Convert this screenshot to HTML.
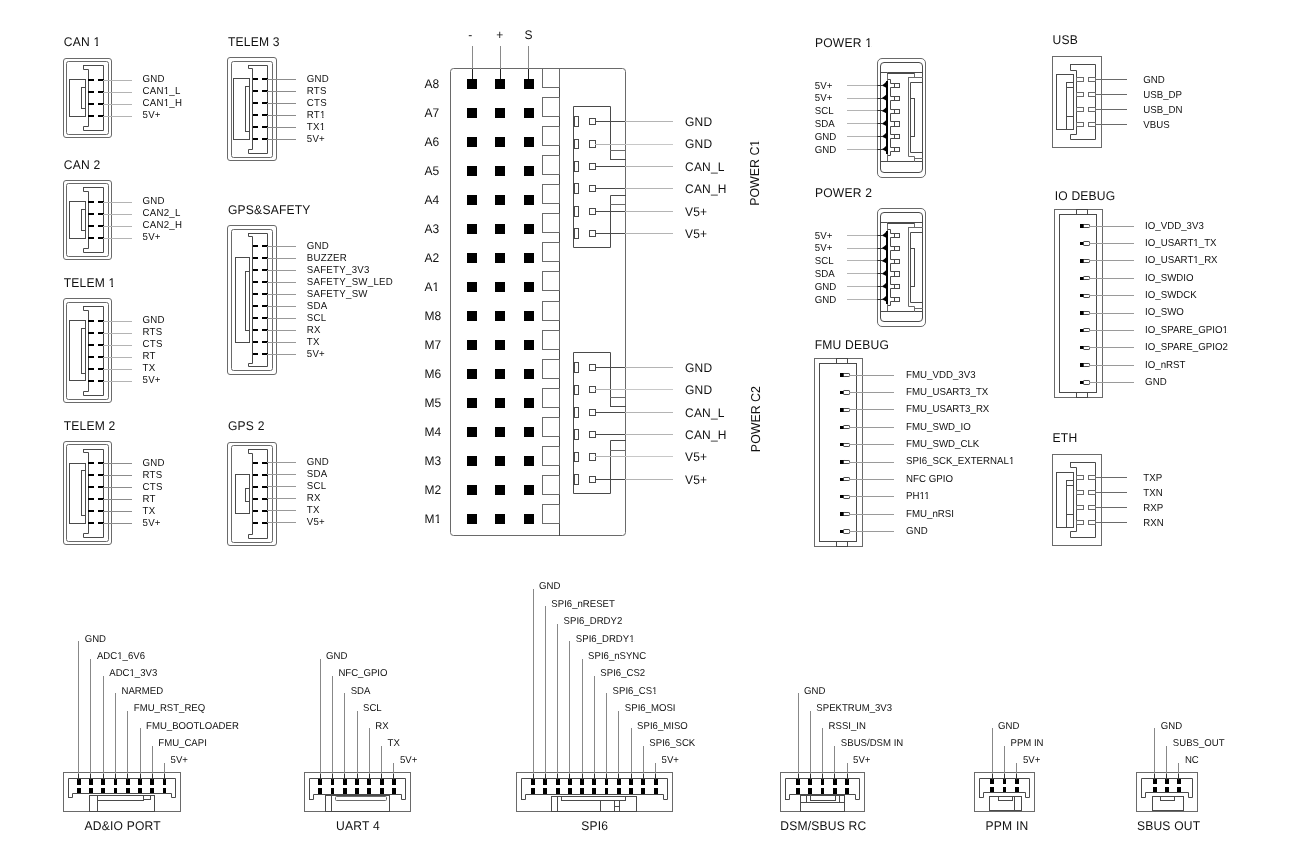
<!DOCTYPE html>
<html><head><meta charset="utf-8"><title>Pinout</title>
<style>
html,body{margin:0;padding:0;background:#fff;}
body{width:1290px;height:860px;overflow:hidden;}
svg{display:block;will-change:transform;font-family:"Liberation Sans", sans-serif;text-rendering:geometricPrecision;}
</style></head>
<body>
<svg width="1290" height="860" viewBox="0 0 1290 860">
<rect width="1290" height="860" fill="#fff"/>
<rect x="63.5" y="58.5" width="48" height="79" fill="none" stroke="#6a6a6a" stroke-width="1" rx="2.5"/>
<rect x="66.5" y="61.5" width="42" height="73" fill="none" stroke="#6a6a6a" stroke-width="1" rx="2"/>
<path d="M83.5,65.5 H103.5 V130.5 H83.5 V126.5 H88.5 V69.5 H83.5 L83.5,65.5" fill="none" stroke="#4a4a4a" stroke-width="1" stroke-linecap="square"/>
<rect x="69.5" y="79.5" width="16" height="37" fill="none" stroke="#4a4a4a" stroke-width="1"/>
<rect x="81.5" y="87.5" width="4" height="21" fill="none" stroke="#4a4a4a" stroke-width="1"/>
<rect x="88" y="79" width="6" height="2" fill="#000"/>
<rect x="98" y="79" width="6" height="2" fill="#000"/>
<line x1="103.5" y1="80.5" x2="131.5" y2="80.5" stroke="#b4b4b4" stroke-width="1" stroke-linecap="square"/>
<text transform="translate(142.5 82.4) scale(0.9609 1)" font-size="10.09" fill="#111" letter-spacing="0.271">GND</text>
<rect x="88" y="91" width="6" height="2" fill="#000"/>
<rect x="98" y="91" width="6" height="2" fill="#000"/>
<line x1="103.5" y1="92.5" x2="131.5" y2="92.5" stroke="#b4b4b4" stroke-width="1" stroke-linecap="square"/>
<text transform="translate(142.5 94.4) scale(0.9609 1)" font-size="10.09" fill="#111" letter-spacing="0.271">CAN1_L</text>
<g transform="translate(142.5 94.4) scale(0.9609 1)" fill="#fff"><rect x="22.37" y="-1.40" width="2.02" height="2.00"/><rect x="25.75" y="-1.40" width="1.85" height="2.00"/></g>
<rect x="88" y="103" width="6" height="2" fill="#000"/>
<rect x="98" y="103" width="6" height="2" fill="#000"/>
<line x1="103.5" y1="104.5" x2="131.5" y2="104.5" stroke="#b4b4b4" stroke-width="1" stroke-linecap="square"/>
<text transform="translate(142.5 106.4) scale(0.9609 1)" font-size="10.09" fill="#111" letter-spacing="0.271">CAN1_H</text>
<g transform="translate(142.5 106.4) scale(0.9609 1)" fill="#fff"><rect x="22.37" y="-1.40" width="2.02" height="2.00"/><rect x="25.75" y="-1.40" width="1.85" height="2.00"/></g>
<rect x="88" y="115" width="6" height="2" fill="#000"/>
<rect x="98" y="115" width="6" height="2" fill="#000"/>
<line x1="103.5" y1="116.5" x2="131.5" y2="116.5" stroke="#b4b4b4" stroke-width="1" stroke-linecap="square"/>
<text transform="translate(142.5 118.4) scale(0.9609 1)" font-size="10.09" fill="#111" letter-spacing="0.271">5V+</text>
<text transform="translate(63.75 46.1) scale(0.9609 1)" font-size="12.59" fill="#111" letter-spacing="0.208">CAN 1</text>
<g transform="translate(63.75 46.1) scale(0.9609 1)" fill="#fff"><rect x="31.24" y="-1.10" width="2.52" height="2.00"/><rect x="35.46" y="-1.10" width="2.31" height="2.00"/></g>
<rect x="63.5" y="180.5" width="48" height="79" fill="none" stroke="#6a6a6a" stroke-width="1" rx="2.5"/>
<rect x="66.5" y="183.5" width="42" height="73" fill="none" stroke="#6a6a6a" stroke-width="1" rx="2"/>
<path d="M83.5,187.5 H103.5 V252.5 H83.5 V248.5 H88.5 V191.5 H83.5 L83.5,187.5" fill="none" stroke="#4a4a4a" stroke-width="1" stroke-linecap="square"/>
<rect x="69.5" y="201.5" width="16" height="37" fill="none" stroke="#4a4a4a" stroke-width="1"/>
<rect x="81.5" y="209.5" width="4" height="21" fill="none" stroke="#4a4a4a" stroke-width="1"/>
<rect x="88" y="201" width="6" height="2" fill="#000"/>
<rect x="98" y="201" width="6" height="2" fill="#000"/>
<line x1="103.5" y1="202.5" x2="131.5" y2="202.5" stroke="#b4b4b4" stroke-width="1" stroke-linecap="square"/>
<text transform="translate(142.5 204.4) scale(0.9609 1)" font-size="10.09" fill="#111" letter-spacing="0.271">GND</text>
<rect x="88" y="213" width="6" height="2" fill="#000"/>
<rect x="98" y="213" width="6" height="2" fill="#000"/>
<line x1="103.5" y1="214.5" x2="131.5" y2="214.5" stroke="#b4b4b4" stroke-width="1" stroke-linecap="square"/>
<text transform="translate(142.5 216.4) scale(0.9609 1)" font-size="10.09" fill="#111" letter-spacing="0.271">CAN2_L</text>
<rect x="88" y="225" width="6" height="2" fill="#000"/>
<rect x="98" y="225" width="6" height="2" fill="#000"/>
<line x1="103.5" y1="226.5" x2="131.5" y2="226.5" stroke="#b4b4b4" stroke-width="1" stroke-linecap="square"/>
<text transform="translate(142.5 228.4) scale(0.9609 1)" font-size="10.09" fill="#111" letter-spacing="0.271">CAN2_H</text>
<rect x="88" y="237" width="6" height="2" fill="#000"/>
<rect x="98" y="237" width="6" height="2" fill="#000"/>
<line x1="103.5" y1="238.5" x2="131.5" y2="238.5" stroke="#b4b4b4" stroke-width="1" stroke-linecap="square"/>
<text transform="translate(142.5 240.4) scale(0.9609 1)" font-size="10.09" fill="#111" letter-spacing="0.271">5V+</text>
<text transform="translate(63.75 168.6) scale(0.9609 1)" font-size="12.59" fill="#111" letter-spacing="0.208">CAN 2</text>
<rect x="63.5" y="298.5" width="48" height="104" fill="none" stroke="#6a6a6a" stroke-width="1" rx="2.5"/>
<rect x="66.5" y="302.5" width="42" height="97" fill="none" stroke="#6a6a6a" stroke-width="1" rx="2"/>
<path d="M83.5,306.5 H103.5 V395.5 H83.5 V391.5 H88.5 V310.5 H83.5 L83.5,306.5" fill="none" stroke="#4a4a4a" stroke-width="1" stroke-linecap="square"/>
<rect x="69.5" y="320.5" width="16" height="60" fill="none" stroke="#4a4a4a" stroke-width="1"/>
<rect x="81.5" y="328.5" width="4" height="45" fill="none" stroke="#4a4a4a" stroke-width="1"/>
<rect x="88" y="320" width="6" height="2" fill="#000"/>
<rect x="98" y="320" width="6" height="2" fill="#000"/>
<line x1="103.5" y1="321.5" x2="131.5" y2="321.5" stroke="#b4b4b4" stroke-width="1" stroke-linecap="square"/>
<text transform="translate(142.5 323.4) scale(0.9609 1)" font-size="10.09" fill="#111" letter-spacing="0.271">GND</text>
<rect x="88" y="332" width="6" height="2" fill="#000"/>
<rect x="98" y="332" width="6" height="2" fill="#000"/>
<line x1="103.5" y1="333.5" x2="131.5" y2="333.5" stroke="#b4b4b4" stroke-width="1" stroke-linecap="square"/>
<text transform="translate(142.5 335.4) scale(0.9609 1)" font-size="10.09" fill="#111" letter-spacing="0.271">RTS</text>
<rect x="88" y="344" width="6" height="2" fill="#000"/>
<rect x="98" y="344" width="6" height="2" fill="#000"/>
<line x1="103.5" y1="345.5" x2="131.5" y2="345.5" stroke="#b4b4b4" stroke-width="1" stroke-linecap="square"/>
<text transform="translate(142.5 347.4) scale(0.9609 1)" font-size="10.09" fill="#111" letter-spacing="0.271">CTS</text>
<rect x="88" y="356" width="6" height="2" fill="#000"/>
<rect x="98" y="356" width="6" height="2" fill="#000"/>
<line x1="103.5" y1="357.5" x2="131.5" y2="357.5" stroke="#b4b4b4" stroke-width="1" stroke-linecap="square"/>
<text transform="translate(142.5 359.4) scale(0.9609 1)" font-size="10.09" fill="#111" letter-spacing="0.271">RT</text>
<rect x="88" y="368" width="6" height="2" fill="#000"/>
<rect x="98" y="368" width="6" height="2" fill="#000"/>
<line x1="103.5" y1="369.5" x2="131.5" y2="369.5" stroke="#b4b4b4" stroke-width="1" stroke-linecap="square"/>
<text transform="translate(142.5 371.4) scale(0.9609 1)" font-size="10.09" fill="#111" letter-spacing="0.271">TX</text>
<rect x="88" y="380" width="6" height="2" fill="#000"/>
<rect x="98" y="380" width="6" height="2" fill="#000"/>
<line x1="103.5" y1="381.5" x2="131.5" y2="381.5" stroke="#b4b4b4" stroke-width="1" stroke-linecap="square"/>
<text transform="translate(142.5 383.4) scale(0.9609 1)" font-size="10.09" fill="#111" letter-spacing="0.271">5V+</text>
<text transform="translate(63.75 286.6) scale(0.9609 1)" font-size="12.59" fill="#111" letter-spacing="0.208">TELEM 1</text>
<g transform="translate(63.75 286.6) scale(0.9609 1)" fill="#fff"><rect x="47.04" y="-1.60" width="2.52" height="2.00"/><rect x="51.25" y="-1.60" width="2.31" height="2.00"/></g>
<rect x="63.5" y="441.5" width="48" height="103" fill="none" stroke="#6a6a6a" stroke-width="1" rx="2.5"/>
<rect x="66.5" y="444.5" width="42" height="97" fill="none" stroke="#6a6a6a" stroke-width="1" rx="2"/>
<path d="M83.5,449.5 H103.5 V537.5 H83.5 V533.5 H88.5 V452.5 H83.5 L83.5,449.5" fill="none" stroke="#4a4a4a" stroke-width="1" stroke-linecap="square"/>
<rect x="69.5" y="463.5" width="16" height="60" fill="none" stroke="#4a4a4a" stroke-width="1"/>
<rect x="81.5" y="470.5" width="4" height="45" fill="none" stroke="#4a4a4a" stroke-width="1"/>
<rect x="88" y="462" width="6" height="2" fill="#000"/>
<rect x="98" y="462" width="6" height="2" fill="#000"/>
<line x1="103.5" y1="463.5" x2="131.5" y2="463.5" stroke="#8c8c8c" stroke-width="1" stroke-linecap="square"/>
<text transform="translate(142.5 465.9) scale(0.9609 1)" font-size="10.09" fill="#111" letter-spacing="0.271">GND</text>
<rect x="88" y="474" width="6" height="2" fill="#000"/>
<rect x="98" y="474" width="6" height="2" fill="#000"/>
<line x1="103.5" y1="475.5" x2="131.5" y2="475.5" stroke="#8c8c8c" stroke-width="1" stroke-linecap="square"/>
<text transform="translate(142.5 477.9) scale(0.9609 1)" font-size="10.09" fill="#111" letter-spacing="0.271">RTS</text>
<rect x="88" y="486" width="6" height="2" fill="#000"/>
<rect x="98" y="486" width="6" height="2" fill="#000"/>
<line x1="103.5" y1="487.5" x2="131.5" y2="487.5" stroke="#8c8c8c" stroke-width="1" stroke-linecap="square"/>
<text transform="translate(142.5 489.9) scale(0.9609 1)" font-size="10.09" fill="#111" letter-spacing="0.271">CTS</text>
<rect x="88" y="498" width="6" height="2" fill="#000"/>
<rect x="98" y="498" width="6" height="2" fill="#000"/>
<line x1="103.5" y1="499.5" x2="131.5" y2="499.5" stroke="#8c8c8c" stroke-width="1" stroke-linecap="square"/>
<text transform="translate(142.5 501.9) scale(0.9609 1)" font-size="10.09" fill="#111" letter-spacing="0.271">RT</text>
<rect x="88" y="510" width="6" height="2" fill="#000"/>
<rect x="98" y="510" width="6" height="2" fill="#000"/>
<line x1="103.5" y1="511.5" x2="131.5" y2="511.5" stroke="#8c8c8c" stroke-width="1" stroke-linecap="square"/>
<text transform="translate(142.5 513.9) scale(0.9609 1)" font-size="10.09" fill="#111" letter-spacing="0.271">TX</text>
<rect x="88" y="522" width="6" height="2" fill="#000"/>
<rect x="98" y="522" width="6" height="2" fill="#000"/>
<line x1="103.5" y1="523.5" x2="131.5" y2="523.5" stroke="#8c8c8c" stroke-width="1" stroke-linecap="square"/>
<text transform="translate(142.5 525.9) scale(0.9609 1)" font-size="10.09" fill="#111" letter-spacing="0.271">5V+</text>
<text transform="translate(63.75 430.35) scale(0.9609 1)" font-size="12.59" fill="#111" letter-spacing="0.208">TELEM 2</text>
<rect x="227.5" y="57.5" width="49" height="103" fill="none" stroke="#6a6a6a" stroke-width="1" rx="2.5"/>
<rect x="231.5" y="61.5" width="41" height="96" fill="none" stroke="#6a6a6a" stroke-width="1" rx="2"/>
<path d="M248.5,65.5 H267.5 V153.5 H248.5 V149.5 H252.5 V68.5 H248.5 L248.5,65.5" fill="none" stroke="#4a4a4a" stroke-width="1" stroke-linecap="square"/>
<rect x="233.5" y="78.5" width="16" height="61" fill="none" stroke="#4a4a4a" stroke-width="1"/>
<rect x="245.5" y="86.5" width="4" height="45" fill="none" stroke="#4a4a4a" stroke-width="1"/>
<rect x="253" y="78" width="5" height="2" fill="#000"/>
<rect x="262" y="78" width="6" height="2" fill="#000"/>
<line x1="267.5" y1="79.5" x2="295.5" y2="79.5" stroke="#8c8c8c" stroke-width="1" stroke-linecap="square"/>
<text transform="translate(306.75 81.7) scale(0.9609 1)" font-size="10.09" fill="#111" letter-spacing="0.271">GND</text>
<rect x="253" y="90" width="5" height="2" fill="#000"/>
<rect x="262" y="90" width="6" height="2" fill="#000"/>
<line x1="267.5" y1="91.5" x2="295.5" y2="91.5" stroke="#8c8c8c" stroke-width="1" stroke-linecap="square"/>
<text transform="translate(306.75 93.7) scale(0.9609 1)" font-size="10.09" fill="#111" letter-spacing="0.271">RTS</text>
<rect x="253" y="102" width="5" height="2" fill="#000"/>
<rect x="262" y="102" width="6" height="2" fill="#000"/>
<line x1="267.5" y1="103.5" x2="295.5" y2="103.5" stroke="#8c8c8c" stroke-width="1" stroke-linecap="square"/>
<text transform="translate(306.75 105.7) scale(0.9609 1)" font-size="10.09" fill="#111" letter-spacing="0.271">CTS</text>
<rect x="253" y="114" width="5" height="2" fill="#000"/>
<rect x="262" y="114" width="6" height="2" fill="#000"/>
<line x1="267.5" y1="115.5" x2="295.5" y2="115.5" stroke="#8c8c8c" stroke-width="1" stroke-linecap="square"/>
<text transform="translate(306.75 117.7) scale(0.9609 1)" font-size="10.09" fill="#111" letter-spacing="0.271">RT1</text>
<g transform="translate(306.75 117.7) scale(0.9609 1)" fill="#fff"><rect x="14.08" y="-1.70" width="2.02" height="2.00"/><rect x="17.45" y="-1.70" width="1.85" height="2.00"/></g>
<rect x="253" y="126" width="5" height="2" fill="#000"/>
<rect x="262" y="126" width="6" height="2" fill="#000"/>
<line x1="267.5" y1="127.5" x2="295.5" y2="127.5" stroke="#8c8c8c" stroke-width="1" stroke-linecap="square"/>
<text transform="translate(306.75 129.7) scale(0.9609 1)" font-size="10.09" fill="#111" letter-spacing="0.271">TX1</text>
<g transform="translate(306.75 129.7) scale(0.9609 1)" fill="#fff"><rect x="13.70" y="-1.70" width="2.02" height="2.00"/><rect x="17.08" y="-1.70" width="1.85" height="2.00"/></g>
<rect x="253" y="138" width="5" height="2" fill="#000"/>
<rect x="262" y="138" width="6" height="2" fill="#000"/>
<line x1="267.5" y1="139.5" x2="295.5" y2="139.5" stroke="#8c8c8c" stroke-width="1" stroke-linecap="square"/>
<text transform="translate(306.75 141.7) scale(0.9609 1)" font-size="10.09" fill="#111" letter-spacing="0.271">5V+</text>
<text transform="translate(228 46.1) scale(0.9609 1)" font-size="12.59" fill="#111" letter-spacing="0.208">TELEM 3</text>
<rect x="227.5" y="225.5" width="49" height="149" fill="none" stroke="#6a6a6a" stroke-width="1" rx="2.5"/>
<rect x="231.5" y="229.5" width="41" height="141" fill="none" stroke="#6a6a6a" stroke-width="1" rx="2"/>
<path d="M248.5,233.5 H267.5 V366.5 H248.5 V363.5 H252.5 V236.5 H248.5 L248.5,233.5" fill="none" stroke="#4a4a4a" stroke-width="1" stroke-linecap="square"/>
<rect x="235.5" y="257.5" width="14" height="85" fill="none" stroke="#4a4a4a" stroke-width="1"/>
<rect x="245.5" y="271.5" width="4" height="59" fill="none" stroke="#4a4a4a" stroke-width="1"/>
<rect x="253" y="245" width="5" height="2" fill="#000"/>
<rect x="262" y="245" width="6" height="2" fill="#000"/>
<line x1="267.5" y1="246.5" x2="295.5" y2="246.5" stroke="#999" stroke-width="1" stroke-linecap="square"/>
<text transform="translate(306.75 248.5) scale(0.9609 1)" font-size="10.09" fill="#111" letter-spacing="0.271">GND</text>
<rect x="253" y="257" width="5" height="2" fill="#000"/>
<rect x="262" y="257" width="6" height="2" fill="#000"/>
<line x1="267.5" y1="258.5" x2="295.5" y2="258.5" stroke="#999" stroke-width="1" stroke-linecap="square"/>
<text transform="translate(306.75 260.5) scale(0.9609 1)" font-size="10.09" fill="#111" letter-spacing="0.271">BUZZER</text>
<rect x="253" y="269" width="5" height="2" fill="#000"/>
<rect x="262" y="269" width="6" height="2" fill="#000"/>
<line x1="267.5" y1="270.5" x2="295.5" y2="270.5" stroke="#999" stroke-width="1" stroke-linecap="square"/>
<text transform="translate(306.75 272.5) scale(0.9609 1)" font-size="10.09" fill="#111" letter-spacing="0.271">SAFETY_3V3</text>
<rect x="253" y="281" width="5" height="2" fill="#000"/>
<rect x="262" y="281" width="6" height="2" fill="#000"/>
<line x1="267.5" y1="282.5" x2="295.5" y2="282.5" stroke="#999" stroke-width="1" stroke-linecap="square"/>
<text transform="translate(306.75 284.5) scale(0.9609 1)" font-size="10.09" fill="#111" letter-spacing="0.271">SAFETY_SW_LED</text>
<rect x="253" y="293" width="5" height="2" fill="#000"/>
<rect x="262" y="293" width="6" height="2" fill="#000"/>
<line x1="267.5" y1="294.5" x2="295.5" y2="294.5" stroke="#999" stroke-width="1" stroke-linecap="square"/>
<text transform="translate(306.75 296.5) scale(0.9609 1)" font-size="10.09" fill="#111" letter-spacing="0.271">SAFETY_SW</text>
<rect x="253" y="305" width="5" height="2" fill="#000"/>
<rect x="262" y="305" width="6" height="2" fill="#000"/>
<line x1="267.5" y1="306.5" x2="295.5" y2="306.5" stroke="#999" stroke-width="1" stroke-linecap="square"/>
<text transform="translate(306.75 308.5) scale(0.9609 1)" font-size="10.09" fill="#111" letter-spacing="0.271">SDA</text>
<rect x="253" y="317" width="5" height="2" fill="#000"/>
<rect x="262" y="317" width="6" height="2" fill="#000"/>
<line x1="267.5" y1="318.5" x2="295.5" y2="318.5" stroke="#999" stroke-width="1" stroke-linecap="square"/>
<text transform="translate(306.75 320.5) scale(0.9609 1)" font-size="10.09" fill="#111" letter-spacing="0.271">SCL</text>
<rect x="253" y="329" width="5" height="2" fill="#000"/>
<rect x="262" y="329" width="6" height="2" fill="#000"/>
<line x1="267.5" y1="330.5" x2="295.5" y2="330.5" stroke="#999" stroke-width="1" stroke-linecap="square"/>
<text transform="translate(306.75 332.5) scale(0.9609 1)" font-size="10.09" fill="#111" letter-spacing="0.271">RX</text>
<rect x="253" y="341" width="5" height="2" fill="#000"/>
<rect x="262" y="341" width="6" height="2" fill="#000"/>
<line x1="267.5" y1="342.5" x2="295.5" y2="342.5" stroke="#999" stroke-width="1" stroke-linecap="square"/>
<text transform="translate(306.75 344.5) scale(0.9609 1)" font-size="10.09" fill="#111" letter-spacing="0.271">TX</text>
<rect x="253" y="353" width="5" height="2" fill="#000"/>
<rect x="262" y="353" width="6" height="2" fill="#000"/>
<line x1="267.5" y1="354.5" x2="295.5" y2="354.5" stroke="#999" stroke-width="1" stroke-linecap="square"/>
<text transform="translate(306.75 356.5) scale(0.9609 1)" font-size="10.09" fill="#111" letter-spacing="0.271">5V+</text>
<text transform="translate(228 214.1) scale(0.9609 1)" font-size="12.59" fill="#111" letter-spacing="0.208">GPS&amp;SAFETY</text>
<rect x="227.5" y="442.5" width="49" height="103" fill="none" stroke="#6a6a6a" stroke-width="1" rx="2.5"/>
<rect x="231.5" y="445.5" width="41" height="97" fill="none" stroke="#6a6a6a" stroke-width="1" rx="2"/>
<path d="M248.5,449.5 H267.5 V538.5 H248.5 V534.5 H252.5 V453.5 H248.5 L248.5,449.5" fill="none" stroke="#4a4a4a" stroke-width="1" stroke-linecap="square"/>
<rect x="235.5" y="474.5" width="14" height="39" fill="none" stroke="#4a4a4a" stroke-width="1"/>
<rect x="245.5" y="488.5" width="4" height="13" fill="none" stroke="#4a4a4a" stroke-width="1"/>
<rect x="253" y="462" width="5" height="2" fill="#000"/>
<rect x="262" y="462" width="6" height="2" fill="#000"/>
<line x1="267.5" y1="462.5" x2="295.5" y2="462.5" stroke="#999" stroke-width="1" stroke-linecap="square"/>
<text transform="translate(306.75 465.1) scale(0.9609 1)" font-size="10.09" fill="#111" letter-spacing="0.271">GND</text>
<rect x="253" y="474" width="5" height="2" fill="#000"/>
<rect x="262" y="474" width="6" height="2" fill="#000"/>
<line x1="267.5" y1="474.5" x2="295.5" y2="474.5" stroke="#999" stroke-width="1" stroke-linecap="square"/>
<text transform="translate(306.75 477.1) scale(0.9609 1)" font-size="10.09" fill="#111" letter-spacing="0.271">SDA</text>
<rect x="253" y="486" width="5" height="2" fill="#000"/>
<rect x="262" y="486" width="6" height="2" fill="#000"/>
<line x1="267.5" y1="486.5" x2="295.5" y2="486.5" stroke="#999" stroke-width="1" stroke-linecap="square"/>
<text transform="translate(306.75 489.1) scale(0.9609 1)" font-size="10.09" fill="#111" letter-spacing="0.271">SCL</text>
<rect x="253" y="498" width="5" height="2" fill="#000"/>
<rect x="262" y="498" width="6" height="2" fill="#000"/>
<line x1="267.5" y1="498.5" x2="295.5" y2="498.5" stroke="#999" stroke-width="1" stroke-linecap="square"/>
<text transform="translate(306.75 501.1) scale(0.9609 1)" font-size="10.09" fill="#111" letter-spacing="0.271">RX</text>
<rect x="253" y="510" width="5" height="2" fill="#000"/>
<rect x="262" y="510" width="6" height="2" fill="#000"/>
<line x1="267.5" y1="510.5" x2="295.5" y2="510.5" stroke="#999" stroke-width="1" stroke-linecap="square"/>
<text transform="translate(306.75 513.1) scale(0.9609 1)" font-size="10.09" fill="#111" letter-spacing="0.271">TX</text>
<rect x="253" y="522" width="5" height="2" fill="#000"/>
<rect x="262" y="522" width="6" height="2" fill="#000"/>
<line x1="267.5" y1="522.5" x2="295.5" y2="522.5" stroke="#999" stroke-width="1" stroke-linecap="square"/>
<text transform="translate(306.75 525.1) scale(0.9609 1)" font-size="10.09" fill="#111" letter-spacing="0.271">V5+</text>
<text transform="translate(228 430.35) scale(0.9609 1)" font-size="12.59" fill="#111" letter-spacing="0.208">GPS 2</text>
<rect x="450.5" y="68.5" width="175" height="467" fill="none" stroke="#6a6a6a" stroke-width="1" rx="3"/>
<line x1="559.5" y1="68.5" x2="559.5" y2="535.5" stroke="#4a4a4a" stroke-width="1" stroke-linecap="square"/>
<rect x="467" y="79" width="10" height="10" fill="#000"/>
<rect x="495" y="79" width="10" height="10" fill="#000"/>
<rect x="524" y="79" width="10" height="10" fill="#000"/>
<rect x="542.5" y="68.5" width="17" height="19" fill="none" stroke="#6a6a6a" stroke-width="1"/>
<text transform="translate(424.6 87.9) scale(0.9609 1)" font-size="12.49" fill="#111">A8</text>
<rect x="467" y="108" width="10" height="10" fill="#000"/>
<rect x="495" y="108" width="10" height="10" fill="#000"/>
<rect x="524" y="108" width="10" height="10" fill="#000"/>
<rect x="542.5" y="97.5" width="17" height="19" fill="none" stroke="#6a6a6a" stroke-width="1"/>
<text transform="translate(424.6 116.9) scale(0.9609 1)" font-size="12.49" fill="#111">A7</text>
<rect x="467" y="137" width="10" height="10" fill="#000"/>
<rect x="495" y="137" width="10" height="10" fill="#000"/>
<rect x="524" y="137" width="10" height="10" fill="#000"/>
<rect x="542.5" y="126.5" width="17" height="19" fill="none" stroke="#6a6a6a" stroke-width="1"/>
<text transform="translate(424.6 145.9) scale(0.9609 1)" font-size="12.49" fill="#111">A6</text>
<rect x="467" y="166" width="10" height="10" fill="#000"/>
<rect x="495" y="166" width="10" height="10" fill="#000"/>
<rect x="524" y="166" width="10" height="10" fill="#000"/>
<rect x="542.5" y="155.5" width="17" height="19" fill="none" stroke="#6a6a6a" stroke-width="1"/>
<text transform="translate(424.6 174.9) scale(0.9609 1)" font-size="12.49" fill="#111">A5</text>
<rect x="467" y="195" width="10" height="10" fill="#000"/>
<rect x="495" y="195" width="10" height="10" fill="#000"/>
<rect x="524" y="195" width="10" height="10" fill="#000"/>
<rect x="542.5" y="184.5" width="17" height="19" fill="none" stroke="#6a6a6a" stroke-width="1"/>
<text transform="translate(424.6 203.9) scale(0.9609 1)" font-size="12.49" fill="#111">A4</text>
<rect x="467" y="224" width="10" height="10" fill="#000"/>
<rect x="495" y="224" width="10" height="10" fill="#000"/>
<rect x="524" y="224" width="10" height="10" fill="#000"/>
<rect x="542.5" y="213.5" width="17" height="19" fill="none" stroke="#6a6a6a" stroke-width="1"/>
<text transform="translate(424.6 232.9) scale(0.9609 1)" font-size="12.49" fill="#111">A3</text>
<rect x="467" y="253" width="10" height="10" fill="#000"/>
<rect x="495" y="253" width="10" height="10" fill="#000"/>
<rect x="524" y="253" width="10" height="10" fill="#000"/>
<rect x="542.5" y="242.5" width="17" height="19" fill="none" stroke="#6a6a6a" stroke-width="1"/>
<text transform="translate(424.6 261.9) scale(0.9609 1)" font-size="12.49" fill="#111">A2</text>
<rect x="467" y="282" width="10" height="10" fill="#000"/>
<rect x="495" y="282" width="10" height="10" fill="#000"/>
<rect x="524" y="282" width="10" height="10" fill="#000"/>
<rect x="542.5" y="271.5" width="17" height="19" fill="none" stroke="#6a6a6a" stroke-width="1"/>
<text transform="translate(424.6 290.9) scale(0.9609 1)" font-size="12.49" fill="#111">A1</text>
<g transform="translate(424.6 290.9) scale(0.9609 1)" fill="#fff"><rect x="8.68" y="-0.90" width="2.50" height="1.00"/><rect x="12.86" y="-0.90" width="2.29" height="1.00"/></g>
<rect x="467" y="311" width="10" height="10" fill="#000"/>
<rect x="495" y="311" width="10" height="10" fill="#000"/>
<rect x="524" y="311" width="10" height="10" fill="#000"/>
<rect x="542.5" y="301.5" width="17" height="19" fill="none" stroke="#6a6a6a" stroke-width="1"/>
<text transform="translate(424.6 319.9) scale(0.9609 1)" font-size="12.49" fill="#111">M8</text>
<rect x="467" y="340" width="10" height="10" fill="#000"/>
<rect x="495" y="340" width="10" height="10" fill="#000"/>
<rect x="524" y="340" width="10" height="10" fill="#000"/>
<rect x="542.5" y="330.5" width="17" height="19" fill="none" stroke="#6a6a6a" stroke-width="1"/>
<text transform="translate(424.6 348.9) scale(0.9609 1)" font-size="12.49" fill="#111">M7</text>
<rect x="467" y="369" width="10" height="10" fill="#000"/>
<rect x="495" y="369" width="10" height="10" fill="#000"/>
<rect x="524" y="369" width="10" height="10" fill="#000"/>
<rect x="542.5" y="359.5" width="17" height="19" fill="none" stroke="#6a6a6a" stroke-width="1"/>
<text transform="translate(424.6 377.9) scale(0.9609 1)" font-size="12.49" fill="#111">M6</text>
<rect x="467" y="398" width="10" height="10" fill="#000"/>
<rect x="495" y="398" width="10" height="10" fill="#000"/>
<rect x="524" y="398" width="10" height="10" fill="#000"/>
<rect x="542.5" y="388.5" width="17" height="19" fill="none" stroke="#6a6a6a" stroke-width="1"/>
<text transform="translate(424.6 406.9) scale(0.9609 1)" font-size="12.49" fill="#111">M5</text>
<rect x="467" y="427" width="10" height="10" fill="#000"/>
<rect x="495" y="427" width="10" height="10" fill="#000"/>
<rect x="524" y="427" width="10" height="10" fill="#000"/>
<rect x="542.5" y="417.5" width="17" height="19" fill="none" stroke="#6a6a6a" stroke-width="1"/>
<text transform="translate(424.6 435.9) scale(0.9609 1)" font-size="12.49" fill="#111">M4</text>
<rect x="467" y="456" width="10" height="10" fill="#000"/>
<rect x="495" y="456" width="10" height="10" fill="#000"/>
<rect x="524" y="456" width="10" height="10" fill="#000"/>
<rect x="542.5" y="446.5" width="17" height="19" fill="none" stroke="#6a6a6a" stroke-width="1"/>
<text transform="translate(424.6 464.9) scale(0.9609 1)" font-size="12.49" fill="#111">M3</text>
<rect x="467" y="485" width="10" height="10" fill="#000"/>
<rect x="495" y="485" width="10" height="10" fill="#000"/>
<rect x="524" y="485" width="10" height="10" fill="#000"/>
<rect x="542.5" y="475.5" width="17" height="19" fill="none" stroke="#6a6a6a" stroke-width="1"/>
<text transform="translate(424.6 493.9) scale(0.9609 1)" font-size="12.49" fill="#111">M2</text>
<rect x="467" y="514" width="10" height="10" fill="#000"/>
<rect x="495" y="514" width="10" height="10" fill="#000"/>
<rect x="524" y="514" width="10" height="10" fill="#000"/>
<rect x="542.5" y="504.5" width="17" height="19" fill="none" stroke="#6a6a6a" stroke-width="1"/>
<text transform="translate(424.6 522.9) scale(0.9609 1)" font-size="12.49" fill="#111">M1</text>
<g transform="translate(424.6 522.9) scale(0.9609 1)" fill="#fff"><rect x="10.76" y="-0.90" width="2.50" height="1.00"/><rect x="14.93" y="-0.90" width="2.29" height="1.00"/></g>
<line x1="472.5" y1="46.5" x2="472.5" y2="68.5" stroke="#8a8a8a" stroke-width="1" stroke-linecap="square"/>
<line x1="472.5" y1="69.5" x2="472.5" y2="78.5" stroke="#222" stroke-width="1" stroke-linecap="square"/>
<text transform="translate(470.2 39.3) scale(0.9609 1)" font-size="12.49" text-anchor="middle" fill="#111">-</text>
<line x1="500.5" y1="46.5" x2="500.5" y2="68.5" stroke="#8a8a8a" stroke-width="1" stroke-linecap="square"/>
<line x1="500.5" y1="69.5" x2="500.5" y2="78.5" stroke="#222" stroke-width="1" stroke-linecap="square"/>
<text transform="translate(499.8 39.3) scale(0.9609 1)" font-size="12.49" text-anchor="middle" fill="#111">+</text>
<line x1="528.5" y1="46.5" x2="528.5" y2="68.5" stroke="#8a8a8a" stroke-width="1" stroke-linecap="square"/>
<line x1="528.5" y1="69.5" x2="528.5" y2="78.5" stroke="#222" stroke-width="1" stroke-linecap="square"/>
<text transform="translate(528.4 39.3) scale(0.9609 1)" font-size="12.49" text-anchor="middle" fill="#111">S</text>
<path d="M610.5,159.5 V106.5 H573.5 V247.5 H610.5 V195.5 H625.5" fill="none" stroke="#4a4a4a" stroke-width="1" stroke-linecap="square"/>
<line x1="610.5" y1="159.5" x2="625.5" y2="159.5" stroke="#4a4a4a" stroke-width="1" stroke-linecap="square"/>
<line x1="610.5" y1="150.5" x2="625.5" y2="150.5" stroke="#6a6a6a" stroke-width="1" stroke-linecap="square"/>
<line x1="610.5" y1="204.5" x2="625.5" y2="204.5" stroke="#6a6a6a" stroke-width="1" stroke-linecap="square"/>
<rect x="574.5" y="116.5" width="4" height="10" fill="none" stroke="#4a4a4a" stroke-width="1"/>
<rect x="589.5" y="118.5" width="6" height="6" fill="none" stroke="#4a4a4a" stroke-width="1"/>
<line x1="595.5" y1="121.5" x2="625.5" y2="121.5" stroke="#4a4a4a" stroke-width="1" stroke-linecap="square"/>
<line x1="625.5" y1="121.5" x2="672.5" y2="121.5" stroke="#b4b4b4" stroke-width="1" stroke-linecap="square"/>
<text transform="translate(685.1 125.9) scale(0.9609 1)" font-size="12.49" fill="#111" letter-spacing="0.156">GND</text>
<rect x="574.5" y="139.5" width="4" height="9" fill="none" stroke="#4a4a4a" stroke-width="1"/>
<rect x="589.5" y="140.5" width="6" height="7" fill="none" stroke="#4a4a4a" stroke-width="1"/>
<line x1="595.5" y1="144.5" x2="625.5" y2="144.5" stroke="#b4b4b4" stroke-width="1" stroke-linecap="square"/>
<line x1="625.5" y1="144.5" x2="672.5" y2="144.5" stroke="#c8c8c8" stroke-width="1" stroke-linecap="square"/>
<text transform="translate(685.1 148.3) scale(0.9609 1)" font-size="12.49" fill="#111" letter-spacing="0.156">GND</text>
<rect x="574.5" y="161.5" width="4" height="10" fill="none" stroke="#4a4a4a" stroke-width="1"/>
<rect x="589.5" y="163.5" width="6" height="6" fill="none" stroke="#4a4a4a" stroke-width="1"/>
<line x1="595.5" y1="166.5" x2="625.5" y2="166.5" stroke="#4a4a4a" stroke-width="1" stroke-linecap="square"/>
<line x1="625.5" y1="166.5" x2="672.5" y2="166.5" stroke="#b4b4b4" stroke-width="1" stroke-linecap="square"/>
<text transform="translate(685.1 170.7) scale(0.9609 1)" font-size="12.49" fill="#111" letter-spacing="0.156">CAN_L</text>
<rect x="574.5" y="183.5" width="4" height="10" fill="none" stroke="#4a4a4a" stroke-width="1"/>
<rect x="589.5" y="185.5" width="6" height="6" fill="none" stroke="#4a4a4a" stroke-width="1"/>
<line x1="595.5" y1="188.5" x2="625.5" y2="188.5" stroke="#4a4a4a" stroke-width="1" stroke-linecap="square"/>
<line x1="625.5" y1="188.5" x2="672.5" y2="188.5" stroke="#b4b4b4" stroke-width="1" stroke-linecap="square"/>
<text transform="translate(685.1 193.1) scale(0.9609 1)" font-size="12.49" fill="#111" letter-spacing="0.156">CAN_H</text>
<rect x="574.5" y="206.5" width="4" height="10" fill="none" stroke="#4a4a4a" stroke-width="1"/>
<rect x="589.5" y="208.5" width="6" height="6" fill="none" stroke="#4a4a4a" stroke-width="1"/>
<line x1="595.5" y1="211.5" x2="625.5" y2="211.5" stroke="#4a4a4a" stroke-width="1" stroke-linecap="square"/>
<line x1="625.5" y1="211.5" x2="672.5" y2="211.5" stroke="#b4b4b4" stroke-width="1" stroke-linecap="square"/>
<text transform="translate(685.1 215.5) scale(0.9609 1)" font-size="12.49" fill="#111" letter-spacing="0.156">V5+</text>
<rect x="574.5" y="228.5" width="4" height="10" fill="none" stroke="#4a4a4a" stroke-width="1"/>
<rect x="589.5" y="230.5" width="6" height="6" fill="none" stroke="#4a4a4a" stroke-width="1"/>
<line x1="595.5" y1="233.5" x2="625.5" y2="233.5" stroke="#4a4a4a" stroke-width="1" stroke-linecap="square"/>
<line x1="625.5" y1="233.5" x2="672.5" y2="233.5" stroke="#b4b4b4" stroke-width="1" stroke-linecap="square"/>
<text transform="translate(685.1 237.9) scale(0.9609 1)" font-size="12.49" fill="#111" letter-spacing="0.156">V5+</text>
<text transform="translate(759.4 172.8) rotate(-90) scale(0.9609 1)" font-size="12.90" text-anchor="middle" fill="#111">POWER C1</text>
<g transform="translate(759.4 172.8) rotate(-90) scale(0.9609 1)" fill="#fff"><rect x="27.57" y="-1.20" width="2.58" height="1.64"/><rect x="31.89" y="-1.20" width="2.36" height="1.64"/></g>
<path d="M610.5,406.5 V352.5 H573.5 V493.5 H610.5 V440.5 H625.5" fill="none" stroke="#4a4a4a" stroke-width="1" stroke-linecap="square"/>
<line x1="610.5" y1="406.5" x2="625.5" y2="406.5" stroke="#4a4a4a" stroke-width="1" stroke-linecap="square"/>
<line x1="610.5" y1="397.5" x2="625.5" y2="397.5" stroke="#6a6a6a" stroke-width="1" stroke-linecap="square"/>
<line x1="610.5" y1="450.5" x2="625.5" y2="450.5" stroke="#6a6a6a" stroke-width="1" stroke-linecap="square"/>
<rect x="574.5" y="362.5" width="4" height="10" fill="none" stroke="#4a4a4a" stroke-width="1"/>
<rect x="589.5" y="364.5" width="6" height="6" fill="none" stroke="#4a4a4a" stroke-width="1"/>
<line x1="595.5" y1="367.5" x2="625.5" y2="367.5" stroke="#4a4a4a" stroke-width="1" stroke-linecap="square"/>
<line x1="625.5" y1="367.5" x2="672.5" y2="367.5" stroke="#b4b4b4" stroke-width="1" stroke-linecap="square"/>
<text transform="translate(685.1 371.8) scale(0.9609 1)" font-size="12.49" fill="#111" letter-spacing="0.156">GND</text>
<rect x="574.5" y="385.5" width="4" height="9" fill="none" stroke="#4a4a4a" stroke-width="1"/>
<rect x="589.5" y="386.5" width="6" height="6" fill="none" stroke="#4a4a4a" stroke-width="1"/>
<line x1="595.5" y1="389.5" x2="625.5" y2="389.5" stroke="#b4b4b4" stroke-width="1" stroke-linecap="square"/>
<line x1="625.5" y1="389.5" x2="672.5" y2="389.5" stroke="#c8c8c8" stroke-width="1" stroke-linecap="square"/>
<text transform="translate(685.1 394.15) scale(0.9609 1)" font-size="12.49" fill="#111" letter-spacing="0.156">GND</text>
<rect x="574.5" y="407.5" width="4" height="10" fill="none" stroke="#4a4a4a" stroke-width="1"/>
<rect x="589.5" y="409.5" width="6" height="6" fill="none" stroke="#4a4a4a" stroke-width="1"/>
<line x1="595.5" y1="412.5" x2="625.5" y2="412.5" stroke="#4a4a4a" stroke-width="1" stroke-linecap="square"/>
<line x1="625.5" y1="412.5" x2="672.5" y2="412.5" stroke="#b4b4b4" stroke-width="1" stroke-linecap="square"/>
<text transform="translate(685.1 416.5) scale(0.9609 1)" font-size="12.49" fill="#111" letter-spacing="0.156">CAN_L</text>
<rect x="574.5" y="429.5" width="4" height="10" fill="none" stroke="#4a4a4a" stroke-width="1"/>
<rect x="589.5" y="431.5" width="6" height="6" fill="none" stroke="#4a4a4a" stroke-width="1"/>
<line x1="595.5" y1="434.5" x2="625.5" y2="434.5" stroke="#4a4a4a" stroke-width="1" stroke-linecap="square"/>
<line x1="625.5" y1="434.5" x2="672.5" y2="434.5" stroke="#b4b4b4" stroke-width="1" stroke-linecap="square"/>
<text transform="translate(685.1 438.85) scale(0.9609 1)" font-size="12.49" fill="#111" letter-spacing="0.156">CAN_H</text>
<rect x="574.5" y="452.5" width="4" height="9" fill="none" stroke="#4a4a4a" stroke-width="1"/>
<rect x="589.5" y="453.5" width="6" height="7" fill="none" stroke="#4a4a4a" stroke-width="1"/>
<line x1="595.5" y1="456.5" x2="625.5" y2="456.5" stroke="#b4b4b4" stroke-width="1" stroke-linecap="square"/>
<line x1="625.5" y1="456.5" x2="672.5" y2="456.5" stroke="#c8c8c8" stroke-width="1" stroke-linecap="square"/>
<text transform="translate(685.1 461.2) scale(0.9609 1)" font-size="12.49" fill="#111" letter-spacing="0.156">V5+</text>
<rect x="574.5" y="474.5" width="4" height="10" fill="none" stroke="#4a4a4a" stroke-width="1"/>
<rect x="589.5" y="476.5" width="6" height="6" fill="none" stroke="#4a4a4a" stroke-width="1"/>
<line x1="595.5" y1="479.5" x2="625.5" y2="479.5" stroke="#4a4a4a" stroke-width="1" stroke-linecap="square"/>
<line x1="625.5" y1="479.5" x2="672.5" y2="479.5" stroke="#b4b4b4" stroke-width="1" stroke-linecap="square"/>
<text transform="translate(685.1 483.55) scale(0.9609 1)" font-size="12.49" fill="#111" letter-spacing="0.156">V5+</text>
<text transform="translate(760.1 419.1) rotate(-90) scale(0.9609 1)" font-size="12.90" text-anchor="middle" fill="#111">POWER C2</text>
<rect x="877.5" y="58.5" width="48" height="119" fill="none" stroke="#6a6a6a" stroke-width="1" rx="4.5"/>
<rect x="880.5" y="62.5" width="42" height="110" fill="none" stroke="#4a4a4a" stroke-width="1" rx="3.5"/>
<line x1="880.5" y1="72.5" x2="922.5" y2="72.5" stroke="#4a4a4a" stroke-width="1" stroke-linecap="square"/>
<line x1="880.5" y1="161.5" x2="922.5" y2="161.5" stroke="#4a4a4a" stroke-width="1" stroke-linecap="square"/>
<line x1="887.5" y1="72.5" x2="887.5" y2="161.5" stroke="#6a6a6a" stroke-width="1" stroke-linecap="square"/>
<line x1="887.5" y1="73.5" x2="914.5" y2="73.5" stroke="#4a4a4a" stroke-width="1" stroke-linecap="square"/>
<line x1="887.5" y1="161.5" x2="914.5" y2="161.5" stroke="#4a4a4a" stroke-width="1" stroke-linecap="square"/>
<path d="M914.5,73.5 V77.5 H922.5 M908.5,77.5 H914.5 M908.5,77.5 V156.5 H914.5 V161.5 M914.5,158.5 H922.5" fill="none" stroke="#6a6a6a" stroke-width="1" stroke-linecap="square"/>
<path d="M922.5,82.5 H910.5 V152.5 H922.5" fill="none" stroke="#4a4a4a" stroke-width="1" stroke-linecap="square"/>
<rect x="910.5" y="98.5" width="4" height="38" fill="none" stroke="#4a4a4a" stroke-width="1"/>
<rect x="886" y="81" width="2" height="73" fill="#000"/>
<path d="M888.5,79.5 H890.5 V83.5 H894.5 V87.5 H890.5 V96.5 H894.5 V100.5 H890.5 V109.5 H894.5 V113.5 H890.5 V121.5 H894.5 V126.5 H890.5 V134.5 H894.5 V138.5 H890.5 V147.5 H894.5 V151.5 H890.5 V155.5 H888.5" fill="none" stroke="#4a4a4a" stroke-width="1" stroke-linecap="square"/>
<rect x="894.5" y="83.5" width="5" height="4" fill="none" stroke="#4a4a4a" stroke-width="1"/>
<path d="M881.6,85.4 Q884.5,83.9 887,81 V88.2 Q884.5,86.6 881.6,85.4 Z" fill="#000"/>
<line x1="847.5" y1="85.5" x2="877.5" y2="85.5" stroke="#b4b4b4" stroke-width="1" stroke-linecap="square"/>
<line x1="877.5" y1="85.5" x2="882.5" y2="85.5" stroke="#333" stroke-width="1" stroke-linecap="square"/>
<text transform="translate(814.8 88.7) scale(0.9609 1)" font-size="10.09" fill="#111">5V+</text>
<rect x="894.5" y="96.5" width="5" height="4" fill="none" stroke="#4a4a4a" stroke-width="1"/>
<path d="M881.6,98.18 Q884.5,96.68 887,93.78 V100.98 Q884.5,99.38 881.6,98.18 Z" fill="#000"/>
<line x1="847.5" y1="98.5" x2="877.5" y2="98.5" stroke="#b4b4b4" stroke-width="1" stroke-linecap="square"/>
<line x1="877.5" y1="98.5" x2="882.5" y2="98.5" stroke="#333" stroke-width="1" stroke-linecap="square"/>
<text transform="translate(814.8 101.48) scale(0.9609 1)" font-size="10.09" fill="#111">5V+</text>
<rect x="894.5" y="109.5" width="5" height="4" fill="none" stroke="#4a4a4a" stroke-width="1"/>
<path d="M881.6,110.96 Q884.5,109.46 887,106.56 V113.76 Q884.5,112.16 881.6,110.96 Z" fill="#000"/>
<line x1="847.5" y1="110.5" x2="877.5" y2="110.5" stroke="#b4b4b4" stroke-width="1" stroke-linecap="square"/>
<line x1="877.5" y1="110.5" x2="882.5" y2="110.5" stroke="#333" stroke-width="1" stroke-linecap="square"/>
<text transform="translate(814.8 114.26) scale(0.9609 1)" font-size="10.09" fill="#111">SCL</text>
<rect x="894.5" y="121.5" width="5" height="5" fill="none" stroke="#4a4a4a" stroke-width="1"/>
<path d="M881.6,123.74 Q884.5,122.24 887,119.34 V126.54 Q884.5,124.94 881.6,123.74 Z" fill="#000"/>
<line x1="847.5" y1="123.5" x2="877.5" y2="123.5" stroke="#b4b4b4" stroke-width="1" stroke-linecap="square"/>
<line x1="877.5" y1="123.5" x2="882.5" y2="123.5" stroke="#333" stroke-width="1" stroke-linecap="square"/>
<text transform="translate(814.8 127.04) scale(0.9609 1)" font-size="10.09" fill="#111">SDA</text>
<rect x="894.5" y="134.5" width="5" height="4" fill="none" stroke="#4a4a4a" stroke-width="1"/>
<path d="M881.6,136.52 Q884.5,135.02 887,132.12 V139.32 Q884.5,137.72 881.6,136.52 Z" fill="#000"/>
<line x1="847.5" y1="136.5" x2="877.5" y2="136.5" stroke="#b4b4b4" stroke-width="1" stroke-linecap="square"/>
<line x1="877.5" y1="136.5" x2="882.5" y2="136.5" stroke="#333" stroke-width="1" stroke-linecap="square"/>
<text transform="translate(814.8 139.82) scale(0.9609 1)" font-size="10.09" fill="#111">GND</text>
<rect x="894.5" y="147.5" width="5" height="4" fill="none" stroke="#4a4a4a" stroke-width="1"/>
<path d="M881.6,149.3 Q884.5,147.8 887,144.9 V152.1 Q884.5,150.5 881.6,149.3 Z" fill="#000"/>
<line x1="847.5" y1="149.5" x2="877.5" y2="149.5" stroke="#b4b4b4" stroke-width="1" stroke-linecap="square"/>
<line x1="877.5" y1="149.5" x2="882.5" y2="149.5" stroke="#333" stroke-width="1" stroke-linecap="square"/>
<text transform="translate(814.8 152.6) scale(0.9609 1)" font-size="10.09" fill="#111">GND</text>
<text transform="translate(815 47.35) scale(0.9609 1)" font-size="12.59" fill="#111" letter-spacing="0.208">POWER 1</text>
<g transform="translate(815 47.35) scale(0.9609 1)" fill="#fff"><rect x="52.62" y="-1.35" width="2.52" height="2.00"/><rect x="56.83" y="-1.35" width="2.31" height="2.00"/></g>
<rect x="877.5" y="208.5" width="48" height="118" fill="none" stroke="#6a6a6a" stroke-width="1" rx="4.5"/>
<rect x="880.5" y="212.5" width="42" height="109" fill="none" stroke="#4a4a4a" stroke-width="1" rx="3.5"/>
<line x1="880.5" y1="222.5" x2="922.5" y2="222.5" stroke="#4a4a4a" stroke-width="1" stroke-linecap="square"/>
<line x1="880.5" y1="311.5" x2="922.5" y2="311.5" stroke="#4a4a4a" stroke-width="1" stroke-linecap="square"/>
<line x1="887.5" y1="222.5" x2="887.5" y2="311.5" stroke="#6a6a6a" stroke-width="1" stroke-linecap="square"/>
<line x1="887.5" y1="223.5" x2="914.5" y2="223.5" stroke="#4a4a4a" stroke-width="1" stroke-linecap="square"/>
<line x1="887.5" y1="311.5" x2="914.5" y2="311.5" stroke="#4a4a4a" stroke-width="1" stroke-linecap="square"/>
<path d="M914.5,223.5 V227.5 H922.5 M908.5,227.5 H914.5 M908.5,227.5 V306.5 H914.5 V311.5 M914.5,308.5 H922.5" fill="none" stroke="#6a6a6a" stroke-width="1" stroke-linecap="square"/>
<path d="M922.5,232.5 H910.5 V302.5 H922.5" fill="none" stroke="#4a4a4a" stroke-width="1" stroke-linecap="square"/>
<rect x="910.5" y="248.5" width="4" height="38" fill="none" stroke="#4a4a4a" stroke-width="1"/>
<rect x="886" y="231" width="2" height="73" fill="#000"/>
<path d="M888.5,229.5 H890.5 V233.5 H894.5 V237.5 H890.5 V246.5 H894.5 V250.5 H890.5 V259.5 H894.5 V263.5 H890.5 V271.5 H894.5 V276.5 H890.5 V284.5 H894.5 V288.5 H890.5 V297.5 H894.5 V301.5 H890.5 V305.5 H888.5" fill="none" stroke="#4a4a4a" stroke-width="1" stroke-linecap="square"/>
<rect x="894.5" y="233.5" width="5" height="4" fill="none" stroke="#4a4a4a" stroke-width="1"/>
<path d="M881.6,235.4 Q884.5,233.9 887,231 V238.2 Q884.5,236.6 881.6,235.4 Z" fill="#000"/>
<line x1="847.5" y1="235.5" x2="877.5" y2="235.5" stroke="#b4b4b4" stroke-width="1" stroke-linecap="square"/>
<line x1="877.5" y1="235.5" x2="882.5" y2="235.5" stroke="#333" stroke-width="1" stroke-linecap="square"/>
<text transform="translate(814.8 238.7) scale(0.9609 1)" font-size="10.09" fill="#111">5V+</text>
<rect x="894.5" y="246.5" width="5" height="4" fill="none" stroke="#4a4a4a" stroke-width="1"/>
<path d="M881.6,248.18 Q884.5,246.68 887,243.78 V250.98 Q884.5,249.38 881.6,248.18 Z" fill="#000"/>
<line x1="847.5" y1="248.5" x2="877.5" y2="248.5" stroke="#b4b4b4" stroke-width="1" stroke-linecap="square"/>
<line x1="877.5" y1="248.5" x2="882.5" y2="248.5" stroke="#333" stroke-width="1" stroke-linecap="square"/>
<text transform="translate(814.8 251.48) scale(0.9609 1)" font-size="10.09" fill="#111">5V+</text>
<rect x="894.5" y="259.5" width="5" height="4" fill="none" stroke="#4a4a4a" stroke-width="1"/>
<path d="M881.6,260.96 Q884.5,259.46 887,256.56 V263.76 Q884.5,262.16 881.6,260.96 Z" fill="#000"/>
<line x1="847.5" y1="260.5" x2="877.5" y2="260.5" stroke="#b4b4b4" stroke-width="1" stroke-linecap="square"/>
<line x1="877.5" y1="260.5" x2="882.5" y2="260.5" stroke="#333" stroke-width="1" stroke-linecap="square"/>
<text transform="translate(814.8 264.26) scale(0.9609 1)" font-size="10.09" fill="#111">SCL</text>
<rect x="894.5" y="271.5" width="5" height="5" fill="none" stroke="#4a4a4a" stroke-width="1"/>
<path d="M881.6,273.74 Q884.5,272.24 887,269.34 V276.54 Q884.5,274.94 881.6,273.74 Z" fill="#000"/>
<line x1="847.5" y1="273.5" x2="877.5" y2="273.5" stroke="#b4b4b4" stroke-width="1" stroke-linecap="square"/>
<line x1="877.5" y1="273.5" x2="882.5" y2="273.5" stroke="#333" stroke-width="1" stroke-linecap="square"/>
<text transform="translate(814.8 277.04) scale(0.9609 1)" font-size="10.09" fill="#111">SDA</text>
<rect x="894.5" y="284.5" width="5" height="4" fill="none" stroke="#4a4a4a" stroke-width="1"/>
<path d="M881.6,286.52 Q884.5,285.02 887,282.12 V289.32 Q884.5,287.72 881.6,286.52 Z" fill="#000"/>
<line x1="847.5" y1="286.5" x2="877.5" y2="286.5" stroke="#b4b4b4" stroke-width="1" stroke-linecap="square"/>
<line x1="877.5" y1="286.5" x2="882.5" y2="286.5" stroke="#333" stroke-width="1" stroke-linecap="square"/>
<text transform="translate(814.8 289.82) scale(0.9609 1)" font-size="10.09" fill="#111">GND</text>
<rect x="894.5" y="297.5" width="5" height="4" fill="none" stroke="#4a4a4a" stroke-width="1"/>
<path d="M881.6,299.3 Q884.5,297.8 887,294.9 V302.1 Q884.5,300.5 881.6,299.3 Z" fill="#000"/>
<line x1="847.5" y1="299.5" x2="877.5" y2="299.5" stroke="#b4b4b4" stroke-width="1" stroke-linecap="square"/>
<line x1="877.5" y1="299.5" x2="882.5" y2="299.5" stroke="#333" stroke-width="1" stroke-linecap="square"/>
<text transform="translate(814.8 302.6) scale(0.9609 1)" font-size="10.09" fill="#111">GND</text>
<text transform="translate(815 197.35) scale(0.9609 1)" font-size="12.59" fill="#111" letter-spacing="0.208">POWER 2</text>
<rect x="1052.5" y="56.5" width="49" height="91" fill="none" stroke="#6a6a6a" stroke-width="1"/>
<path d="M1070.5,64.5 H1095.5 V139.5 H1070.5 V134.5 H1076.5 V70.5 H1070.5 L1070.5,64.5" fill="none" stroke="#4a4a4a" stroke-width="1" stroke-linecap="square"/>
<rect x="1056.5" y="74.5" width="17" height="55" fill="none" stroke="#4a4a4a" stroke-width="1"/>
<rect x="1066.5" y="82.5" width="7" height="47" fill="none" stroke="#4a4a4a" stroke-width="1"/>
<line x1="1066.5" y1="87.5" x2="1073.5" y2="87.5" stroke="#4a4a4a" stroke-width="1" stroke-linecap="square"/>
<line x1="1066.5" y1="116.5" x2="1073.5" y2="116.5" stroke="#4a4a4a" stroke-width="1" stroke-linecap="square"/>
<rect x="1076.5" y="77.5" width="7" height="4" fill="none" stroke="#6a6a6a" stroke-width="1"/>
<rect x="1088.5" y="77.5" width="7" height="4" fill="none" stroke="#6a6a6a" stroke-width="1"/>
<line x1="1095.5" y1="79.5" x2="1126.5" y2="79.5" stroke="#6a6a6a" stroke-width="1" stroke-linecap="square"/>
<text transform="translate(1143.3 82.8) scale(0.9609 1)" font-size="10.09" fill="#111">GND</text>
<rect x="1076.5" y="92.5" width="7" height="4" fill="none" stroke="#6a6a6a" stroke-width="1"/>
<rect x="1088.5" y="92.5" width="7" height="4" fill="none" stroke="#6a6a6a" stroke-width="1"/>
<line x1="1095.5" y1="94.5" x2="1126.5" y2="94.5" stroke="#6a6a6a" stroke-width="1" stroke-linecap="square"/>
<text transform="translate(1143.3 97.87) scale(0.9609 1)" font-size="10.09" fill="#111">USB_DP</text>
<rect x="1076.5" y="107.5" width="7" height="4" fill="none" stroke="#6a6a6a" stroke-width="1"/>
<rect x="1088.5" y="107.5" width="7" height="4" fill="none" stroke="#6a6a6a" stroke-width="1"/>
<line x1="1095.5" y1="109.5" x2="1126.5" y2="109.5" stroke="#6a6a6a" stroke-width="1" stroke-linecap="square"/>
<text transform="translate(1143.3 112.94) scale(0.9609 1)" font-size="10.09" fill="#111">USB_DN</text>
<rect x="1076.5" y="122.5" width="7" height="4" fill="none" stroke="#6a6a6a" stroke-width="1"/>
<rect x="1088.5" y="122.5" width="7" height="4" fill="none" stroke="#6a6a6a" stroke-width="1"/>
<line x1="1095.5" y1="124.5" x2="1126.5" y2="124.5" stroke="#6a6a6a" stroke-width="1" stroke-linecap="square"/>
<text transform="translate(1143.3 128.01) scale(0.9609 1)" font-size="10.09" fill="#111">VBUS</text>
<text transform="translate(1052.6 44.1) scale(0.9609 1)" font-size="12.59" fill="#111" letter-spacing="0.208">USB</text>
<rect x="1052.5" y="454.5" width="49" height="91" fill="none" stroke="#6a6a6a" stroke-width="1"/>
<path d="M1070.5,462.5 H1095.5 V537.5 H1070.5 V531.5 H1076.5 V467.5 H1070.5 L1070.5,462.5" fill="none" stroke="#4a4a4a" stroke-width="1" stroke-linecap="square"/>
<rect x="1056.5" y="472.5" width="17" height="55" fill="none" stroke="#4a4a4a" stroke-width="1"/>
<rect x="1066.5" y="480.5" width="7" height="47" fill="none" stroke="#4a4a4a" stroke-width="1"/>
<line x1="1066.5" y1="485.5" x2="1073.5" y2="485.5" stroke="#4a4a4a" stroke-width="1" stroke-linecap="square"/>
<line x1="1066.5" y1="514.5" x2="1073.5" y2="514.5" stroke="#4a4a4a" stroke-width="1" stroke-linecap="square"/>
<rect x="1076.5" y="475.5" width="7" height="4" fill="none" stroke="#6a6a6a" stroke-width="1"/>
<rect x="1088.5" y="475.5" width="7" height="4" fill="none" stroke="#6a6a6a" stroke-width="1"/>
<line x1="1095.5" y1="477.5" x2="1126.5" y2="477.5" stroke="#6a6a6a" stroke-width="1" stroke-linecap="square"/>
<text transform="translate(1143.3 480.6) scale(0.9609 1)" font-size="10.09" fill="#111">TXP</text>
<rect x="1076.5" y="490.5" width="7" height="4" fill="none" stroke="#6a6a6a" stroke-width="1"/>
<rect x="1088.5" y="490.5" width="7" height="4" fill="none" stroke="#6a6a6a" stroke-width="1"/>
<line x1="1095.5" y1="492.5" x2="1126.5" y2="492.5" stroke="#6a6a6a" stroke-width="1" stroke-linecap="square"/>
<text transform="translate(1143.3 495.67) scale(0.9609 1)" font-size="10.09" fill="#111">TXN</text>
<rect x="1076.5" y="505.5" width="7" height="4" fill="none" stroke="#6a6a6a" stroke-width="1"/>
<rect x="1088.5" y="505.5" width="7" height="4" fill="none" stroke="#6a6a6a" stroke-width="1"/>
<line x1="1095.5" y1="507.5" x2="1126.5" y2="507.5" stroke="#6a6a6a" stroke-width="1" stroke-linecap="square"/>
<text transform="translate(1143.3 510.74) scale(0.9609 1)" font-size="10.09" fill="#111">RXP</text>
<rect x="1076.5" y="520.5" width="7" height="4" fill="none" stroke="#6a6a6a" stroke-width="1"/>
<rect x="1088.5" y="520.5" width="7" height="4" fill="none" stroke="#6a6a6a" stroke-width="1"/>
<line x1="1095.5" y1="522.5" x2="1126.5" y2="522.5" stroke="#6a6a6a" stroke-width="1" stroke-linecap="square"/>
<text transform="translate(1143.3 525.81) scale(0.9609 1)" font-size="10.09" fill="#111">RXN</text>
<text transform="translate(1052.6 442.4) scale(0.9609 1)" font-size="12.59" fill="#111" letter-spacing="0.208">ETH</text>
<rect x="1054.5" y="209.5" width="48" height="188" fill="none" stroke="#6a6a6a" stroke-width="1"/>
<rect x="1059.5" y="214.5" width="37" height="178" fill="none" stroke="#4a4a4a" stroke-width="1"/>
<rect x="1076.5" y="209.5" width="11" height="5" fill="none" stroke="#4a4a4a" stroke-width="1"/>
<rect x="1076.5" y="392.5" width="11" height="5" fill="none" stroke="#4a4a4a" stroke-width="1"/>
<rect x="1080" y="224" width="4" height="4" fill="#000"/>
<rect x="1083.5" y="224.5" width="6" height="3" fill="none" stroke="#4a4a4a" stroke-width="1" rx="0.6"/>
<line x1="1089.5" y1="226.5" x2="1133.5" y2="226.5" stroke="#9a9a9a" stroke-width="1" stroke-linecap="square"/>
<text transform="translate(1145.1 228.5) scale(0.9609 1)" font-size="10.09" fill="#111">IO_VDD_3V3</text>
<rect x="1080" y="242" width="4" height="3" fill="#000"/>
<rect x="1083.5" y="241.5" width="6" height="4" fill="none" stroke="#4a4a4a" stroke-width="1" rx="0.6"/>
<line x1="1089.5" y1="243.5" x2="1133.5" y2="243.5" stroke="#9a9a9a" stroke-width="1" stroke-linecap="square"/>
<text transform="translate(1145.1 245.88) scale(0.9609 1)" font-size="10.09" fill="#111">IO_USART1_TX</text>
<g transform="translate(1145.1 245.88) scale(0.9609 1)" fill="#fff"><rect x="50.50" y="-0.88" width="2.02" height="1.00"/><rect x="53.88" y="-0.88" width="1.85" height="1.00"/></g>
<rect x="1080" y="259" width="4" height="4" fill="#000"/>
<rect x="1083.5" y="259.5" width="6" height="3" fill="none" stroke="#4a4a4a" stroke-width="1" rx="0.6"/>
<line x1="1089.5" y1="260.5" x2="1133.5" y2="260.5" stroke="#9a9a9a" stroke-width="1" stroke-linecap="square"/>
<text transform="translate(1145.1 263.26) scale(0.9609 1)" font-size="10.09" fill="#111">IO_USART1_RX</text>
<g transform="translate(1145.1 263.26) scale(0.9609 1)" fill="#fff"><rect x="50.50" y="-1.26" width="2.02" height="2.00"/><rect x="53.88" y="-1.26" width="1.85" height="2.00"/></g>
<rect x="1080" y="277" width="4" height="3" fill="#000"/>
<rect x="1083.5" y="276.5" width="6" height="3" fill="none" stroke="#4a4a4a" stroke-width="1" rx="0.6"/>
<line x1="1089.5" y1="278.5" x2="1133.5" y2="278.5" stroke="#9a9a9a" stroke-width="1" stroke-linecap="square"/>
<text transform="translate(1145.1 280.64) scale(0.9609 1)" font-size="10.09" fill="#111">IO_SWDIO</text>
<rect x="1080" y="294" width="4" height="3" fill="#000"/>
<rect x="1083.5" y="294.5" width="6" height="3" fill="none" stroke="#4a4a4a" stroke-width="1" rx="0.6"/>
<line x1="1089.5" y1="295.5" x2="1133.5" y2="295.5" stroke="#9a9a9a" stroke-width="1" stroke-linecap="square"/>
<text transform="translate(1145.1 298.02) scale(0.9609 1)" font-size="10.09" fill="#111">IO_SWDCK</text>
<rect x="1080" y="311" width="4" height="4" fill="#000"/>
<rect x="1083.5" y="311.5" width="6" height="3" fill="none" stroke="#4a4a4a" stroke-width="1" rx="0.6"/>
<line x1="1089.5" y1="313.5" x2="1133.5" y2="313.5" stroke="#9a9a9a" stroke-width="1" stroke-linecap="square"/>
<text transform="translate(1145.1 315.4) scale(0.9609 1)" font-size="10.09" fill="#111">IO_SWO</text>
<rect x="1080" y="329" width="4" height="3" fill="#000"/>
<rect x="1083.5" y="328.5" width="6" height="3" fill="none" stroke="#4a4a4a" stroke-width="1" rx="0.6"/>
<line x1="1089.5" y1="330.5" x2="1133.5" y2="330.5" stroke="#9a9a9a" stroke-width="1" stroke-linecap="square"/>
<text transform="translate(1145.1 332.78) scale(0.9609 1)" font-size="10.09" fill="#111">IO_SPARE_GPIO1</text>
<g transform="translate(1145.1 332.78) scale(0.9609 1)" fill="#fff"><rect x="80.75" y="-1.78" width="2.02" height="2.00"/><rect x="84.13" y="-1.78" width="1.85" height="2.00"/></g>
<rect x="1080" y="346" width="4" height="3" fill="#000"/>
<rect x="1083.5" y="346.5" width="6" height="3" fill="none" stroke="#4a4a4a" stroke-width="1" rx="0.6"/>
<line x1="1089.5" y1="347.5" x2="1133.5" y2="347.5" stroke="#9a9a9a" stroke-width="1" stroke-linecap="square"/>
<text transform="translate(1145.1 350.16) scale(0.9609 1)" font-size="10.09" fill="#111">IO_SPARE_GPIO2</text>
<rect x="1080" y="363" width="4" height="4" fill="#000"/>
<rect x="1083.5" y="363.5" width="6" height="3" fill="none" stroke="#4a4a4a" stroke-width="1" rx="0.6"/>
<line x1="1089.5" y1="365.5" x2="1133.5" y2="365.5" stroke="#9a9a9a" stroke-width="1" stroke-linecap="square"/>
<text transform="translate(1145.1 367.54) scale(0.9609 1)" font-size="10.09" fill="#111">IO_nRST</text>
<rect x="1080" y="381" width="4" height="3" fill="#000"/>
<rect x="1083.5" y="380.5" width="6" height="4" fill="none" stroke="#4a4a4a" stroke-width="1" rx="0.6"/>
<line x1="1089.5" y1="382.5" x2="1133.5" y2="382.5" stroke="#9a9a9a" stroke-width="1" stroke-linecap="square"/>
<text transform="translate(1145.1 384.92) scale(0.9609 1)" font-size="10.09" fill="#111">GND</text>
<text transform="translate(1054.7 199.8) scale(0.9609 1)" font-size="12.59" fill="#111" letter-spacing="0.208">IO DEBUG</text>
<rect x="814.5" y="358.5" width="48" height="188" fill="none" stroke="#6a6a6a" stroke-width="1"/>
<rect x="819.5" y="363.5" width="37" height="178" fill="none" stroke="#4a4a4a" stroke-width="1"/>
<rect x="836.5" y="358.5" width="11" height="5" fill="none" stroke="#4a4a4a" stroke-width="1"/>
<rect x="836.5" y="541.5" width="11" height="5" fill="none" stroke="#4a4a4a" stroke-width="1"/>
<rect x="840" y="373" width="4" height="4" fill="#000"/>
<rect x="843.5" y="373.5" width="6" height="3" fill="none" stroke="#4a4a4a" stroke-width="1" rx="0.6"/>
<line x1="849.5" y1="375.5" x2="893.5" y2="375.5" stroke="#9a9a9a" stroke-width="1" stroke-linecap="square"/>
<text transform="translate(906.1 377.5) scale(0.9609 1)" font-size="10.09" fill="#111">FMU_VDD_3V3</text>
<rect x="840" y="391" width="4" height="3" fill="#000"/>
<rect x="843.5" y="390.5" width="6" height="4" fill="none" stroke="#4a4a4a" stroke-width="1" rx="0.6"/>
<line x1="849.5" y1="392.5" x2="893.5" y2="392.5" stroke="#9a9a9a" stroke-width="1" stroke-linecap="square"/>
<text transform="translate(906.1 394.88) scale(0.9609 1)" font-size="10.09" fill="#111">FMU_USART3_TX</text>
<rect x="840" y="408" width="4" height="4" fill="#000"/>
<rect x="843.5" y="408.5" width="6" height="3" fill="none" stroke="#4a4a4a" stroke-width="1" rx="0.6"/>
<line x1="849.5" y1="409.5" x2="893.5" y2="409.5" stroke="#9a9a9a" stroke-width="1" stroke-linecap="square"/>
<text transform="translate(906.1 412.26) scale(0.9609 1)" font-size="10.09" fill="#111">FMU_USART3_RX</text>
<rect x="840" y="426" width="4" height="3" fill="#000"/>
<rect x="843.5" y="425.5" width="6" height="3" fill="none" stroke="#4a4a4a" stroke-width="1" rx="0.6"/>
<line x1="849.5" y1="427.5" x2="893.5" y2="427.5" stroke="#9a9a9a" stroke-width="1" stroke-linecap="square"/>
<text transform="translate(906.1 429.64) scale(0.9609 1)" font-size="10.09" fill="#111">FMU_SWD_IO</text>
<rect x="840" y="443" width="4" height="3" fill="#000"/>
<rect x="843.5" y="443.5" width="6" height="3" fill="none" stroke="#4a4a4a" stroke-width="1" rx="0.6"/>
<line x1="849.5" y1="444.5" x2="893.5" y2="444.5" stroke="#9a9a9a" stroke-width="1" stroke-linecap="square"/>
<text transform="translate(906.1 447.02) scale(0.9609 1)" font-size="10.09" fill="#111">FMU_SWD_CLK</text>
<rect x="840" y="460" width="4" height="4" fill="#000"/>
<rect x="843.5" y="460.5" width="6" height="3" fill="none" stroke="#4a4a4a" stroke-width="1" rx="0.6"/>
<line x1="849.5" y1="462.5" x2="893.5" y2="462.5" stroke="#9a9a9a" stroke-width="1" stroke-linecap="square"/>
<text transform="translate(906.1 464.4) scale(0.9609 1)" font-size="10.09" fill="#111">SPI6_SCK_EXTERNAL1</text>
<g transform="translate(906.1 464.4) scale(0.9609 1)" fill="#fff"><rect x="107.28" y="-1.40" width="2.02" height="2.00"/><rect x="110.66" y="-1.40" width="1.85" height="2.00"/></g>
<rect x="840" y="478" width="4" height="3" fill="#000"/>
<rect x="843.5" y="477.5" width="6" height="3" fill="none" stroke="#4a4a4a" stroke-width="1" rx="0.6"/>
<line x1="849.5" y1="479.5" x2="893.5" y2="479.5" stroke="#9a9a9a" stroke-width="1" stroke-linecap="square"/>
<text transform="translate(906.1 481.78) scale(0.9609 1)" font-size="10.09" fill="#111">NFC GPIO</text>
<rect x="840" y="495" width="4" height="3" fill="#000"/>
<rect x="843.5" y="495.5" width="6" height="3" fill="none" stroke="#4a4a4a" stroke-width="1" rx="0.6"/>
<line x1="849.5" y1="496.5" x2="893.5" y2="496.5" stroke="#9a9a9a" stroke-width="1" stroke-linecap="square"/>
<text transform="translate(906.1 499.16) scale(0.9609 1)" font-size="10.09" fill="#111">PH11</text>
<g transform="translate(906.1 499.16) scale(0.9609 1)" fill="#fff"><rect x="14.30" y="-1.16" width="2.02" height="2.00"/><rect x="17.67" y="-1.16" width="1.85" height="2.00"/><rect x="19.14" y="-1.16" width="2.02" height="2.00"/><rect x="22.52" y="-1.16" width="1.85" height="2.00"/></g>
<rect x="840" y="512" width="4" height="4" fill="#000"/>
<rect x="843.5" y="512.5" width="6" height="3" fill="none" stroke="#4a4a4a" stroke-width="1" rx="0.6"/>
<line x1="849.5" y1="514.5" x2="893.5" y2="514.5" stroke="#9a9a9a" stroke-width="1" stroke-linecap="square"/>
<text transform="translate(906.1 516.54) scale(0.9609 1)" font-size="10.09" fill="#111">FMU_nRSI</text>
<rect x="840" y="530" width="4" height="3" fill="#000"/>
<rect x="843.5" y="529.5" width="6" height="4" fill="none" stroke="#4a4a4a" stroke-width="1" rx="0.6"/>
<line x1="849.5" y1="531.5" x2="893.5" y2="531.5" stroke="#9a9a9a" stroke-width="1" stroke-linecap="square"/>
<text transform="translate(906.1 533.92) scale(0.9609 1)" font-size="10.09" fill="#111">GND</text>
<text transform="translate(814.7 348.8) scale(0.9609 1)" font-size="12.59" fill="#111" letter-spacing="0.208">FMU DEBUG</text>
<rect x="63.5" y="772.5" width="117" height="39" fill="none" stroke="#6a6a6a" stroke-width="1"/>
<path d="M68.5,797.5 V778.5 H175.5 V797.5 H171.5 V793.5 H72.5 V797.5 L68.5,797.5" fill="none" stroke="#4a4a4a" stroke-width="1" stroke-linecap="square"/>
<rect x="77" y="779" width="4" height="6" fill="#000"/>
<rect x="77" y="788" width="4" height="5" fill="#000"/>
<line x1="78.5" y1="773.5" x2="78.5" y2="641.5" stroke="#888" stroke-width="1" stroke-linecap="square"/>
<line x1="78.5" y1="774.5" x2="78.5" y2="779.5" stroke="#333" stroke-width="1" stroke-linecap="square"/>
<text transform="translate(84.7 641.5) scale(0.9609 1)" font-size="9.99" fill="#111">GND</text>
<rect x="89" y="779" width="4" height="6" fill="#000"/>
<rect x="89" y="788" width="4" height="5" fill="#000"/>
<line x1="90.5" y1="773.5" x2="90.5" y2="659.5" stroke="#888" stroke-width="1" stroke-linecap="square"/>
<line x1="90.5" y1="774.5" x2="90.5" y2="779.5" stroke="#333" stroke-width="1" stroke-linecap="square"/>
<text transform="translate(96.97 658.9) scale(0.9609 1)" font-size="9.99" fill="#111">ADC1_6V6</text>
<g transform="translate(96.97 658.9) scale(0.9609 1)" fill="#fff"><rect x="21.37" y="-0.90" width="2.00" height="1.00"/><rect x="24.71" y="-0.90" width="1.83" height="1.00"/></g>
<rect x="101" y="779" width="4" height="6" fill="#000"/>
<rect x="101" y="788" width="4" height="5" fill="#000"/>
<line x1="103.5" y1="773.5" x2="103.5" y2="676.5" stroke="#888" stroke-width="1" stroke-linecap="square"/>
<line x1="103.5" y1="774.5" x2="103.5" y2="779.5" stroke="#333" stroke-width="1" stroke-linecap="square"/>
<text transform="translate(109.24 676.3) scale(0.9609 1)" font-size="9.99" fill="#111">ADC1_3V3</text>
<g transform="translate(109.24 676.3) scale(0.9609 1)" fill="#fff"><rect x="21.37" y="-1.30" width="2.00" height="2.00"/><rect x="24.71" y="-1.30" width="1.83" height="2.00"/></g>
<rect x="114" y="779" width="3" height="6" fill="#000"/>
<rect x="114" y="788" width="3" height="5" fill="#000"/>
<line x1="115.5" y1="773.5" x2="115.5" y2="693.5" stroke="#888" stroke-width="1" stroke-linecap="square"/>
<line x1="115.5" y1="774.5" x2="115.5" y2="779.5" stroke="#333" stroke-width="1" stroke-linecap="square"/>
<text transform="translate(121.51 693.7) scale(0.9609 1)" font-size="9.99" fill="#111">NARMED</text>
<rect x="126" y="779" width="4" height="6" fill="#000"/>
<rect x="126" y="788" width="4" height="5" fill="#000"/>
<line x1="127.5" y1="773.5" x2="127.5" y2="711.5" stroke="#888" stroke-width="1" stroke-linecap="square"/>
<line x1="127.5" y1="774.5" x2="127.5" y2="779.5" stroke="#333" stroke-width="1" stroke-linecap="square"/>
<text transform="translate(133.78 711.1) scale(0.9609 1)" font-size="9.99" fill="#111">FMU_RST_REQ</text>
<rect x="138" y="779" width="4" height="6" fill="#000"/>
<rect x="138" y="788" width="4" height="5" fill="#000"/>
<line x1="140.5" y1="773.5" x2="140.5" y2="728.5" stroke="#888" stroke-width="1" stroke-linecap="square"/>
<line x1="140.5" y1="774.5" x2="140.5" y2="779.5" stroke="#333" stroke-width="1" stroke-linecap="square"/>
<text transform="translate(146.05 728.5) scale(0.9609 1)" font-size="9.99" fill="#111">FMU_BOOTLOADER</text>
<rect x="150" y="779" width="4" height="6" fill="#000"/>
<rect x="150" y="788" width="4" height="5" fill="#000"/>
<line x1="152.5" y1="773.5" x2="152.5" y2="746.5" stroke="#888" stroke-width="1" stroke-linecap="square"/>
<line x1="152.5" y1="774.5" x2="152.5" y2="779.5" stroke="#333" stroke-width="1" stroke-linecap="square"/>
<text transform="translate(158.32 745.9) scale(0.9609 1)" font-size="9.99" fill="#111">FMU_CAPI</text>
<rect x="163" y="779" width="3" height="6" fill="#000"/>
<rect x="163" y="788" width="3" height="5" fill="#000"/>
<line x1="164.5" y1="773.5" x2="164.5" y2="763.5" stroke="#888" stroke-width="1" stroke-linecap="square"/>
<line x1="164.5" y1="774.5" x2="164.5" y2="779.5" stroke="#333" stroke-width="1" stroke-linecap="square"/>
<text transform="translate(170.59 763.3) scale(0.9609 1)" font-size="9.99" fill="#111">5V+</text>
<text transform="translate(84.5 829.6) scale(0.9609 1)" font-size="12.59" fill="#111" letter-spacing="0.208">AD&amp;IO PORT</text>
<rect x="89.5" y="795.5" width="65" height="16" fill="none" stroke="#4a4a4a" stroke-width="1"/>
<line x1="97.5" y1="795.5" x2="97.5" y2="811.5" stroke="#4a4a4a" stroke-width="1" stroke-linecap="square"/>
<rect x="97.5" y="795.5" width="46" height="5" fill="none" stroke="#4a4a4a" stroke-width="1"/>
<rect x="143.5" y="795.5" width="7" height="4" fill="none" stroke="#4a4a4a" stroke-width="1"/>
<rect x="304.5" y="772.5" width="106" height="39" fill="none" stroke="#6a6a6a" stroke-width="1"/>
<path d="M309.5,799.5 V778.5 H405.5 V799.5 H401.5 V794.5 H313.5 V799.5 L309.5,799.5" fill="none" stroke="#4a4a4a" stroke-width="1" stroke-linecap="square"/>
<rect x="318" y="779" width="4" height="6" fill="#000"/>
<rect x="318" y="788" width="4" height="6" fill="#000"/>
<line x1="320.5" y1="773.5" x2="320.5" y2="659.5" stroke="#888" stroke-width="1" stroke-linecap="square"/>
<line x1="320.5" y1="774.5" x2="320.5" y2="779.5" stroke="#333" stroke-width="1" stroke-linecap="square"/>
<text transform="translate(326.1 658.9) scale(0.9609 1)" font-size="9.99" fill="#111">GND</text>
<rect x="331" y="779" width="3" height="6" fill="#000"/>
<rect x="331" y="788" width="3" height="6" fill="#000"/>
<line x1="332.5" y1="773.5" x2="332.5" y2="676.5" stroke="#888" stroke-width="1" stroke-linecap="square"/>
<line x1="332.5" y1="774.5" x2="332.5" y2="779.5" stroke="#333" stroke-width="1" stroke-linecap="square"/>
<text transform="translate(338.4 676.3) scale(0.9609 1)" font-size="9.99" fill="#111">NFC_GPIO</text>
<rect x="343" y="779" width="4" height="6" fill="#000"/>
<rect x="343" y="788" width="4" height="6" fill="#000"/>
<line x1="344.5" y1="773.5" x2="344.5" y2="693.5" stroke="#888" stroke-width="1" stroke-linecap="square"/>
<line x1="344.5" y1="774.5" x2="344.5" y2="779.5" stroke="#333" stroke-width="1" stroke-linecap="square"/>
<text transform="translate(350.7 693.7) scale(0.9609 1)" font-size="9.99" fill="#111">SDA</text>
<rect x="355" y="779" width="4" height="6" fill="#000"/>
<rect x="355" y="788" width="4" height="6" fill="#000"/>
<line x1="357.5" y1="773.5" x2="357.5" y2="711.5" stroke="#888" stroke-width="1" stroke-linecap="square"/>
<line x1="357.5" y1="774.5" x2="357.5" y2="779.5" stroke="#333" stroke-width="1" stroke-linecap="square"/>
<text transform="translate(363 711.1) scale(0.9609 1)" font-size="9.99" fill="#111">SCL</text>
<rect x="367" y="779" width="4" height="6" fill="#000"/>
<rect x="367" y="788" width="4" height="6" fill="#000"/>
<line x1="369.5" y1="773.5" x2="369.5" y2="728.5" stroke="#888" stroke-width="1" stroke-linecap="square"/>
<line x1="369.5" y1="774.5" x2="369.5" y2="779.5" stroke="#333" stroke-width="1" stroke-linecap="square"/>
<text transform="translate(375.3 728.5) scale(0.9609 1)" font-size="9.99" fill="#111">RX</text>
<rect x="380" y="779" width="4" height="6" fill="#000"/>
<rect x="380" y="788" width="4" height="6" fill="#000"/>
<line x1="381.5" y1="773.5" x2="381.5" y2="746.5" stroke="#888" stroke-width="1" stroke-linecap="square"/>
<line x1="381.5" y1="774.5" x2="381.5" y2="779.5" stroke="#333" stroke-width="1" stroke-linecap="square"/>
<text transform="translate(387.6 745.9) scale(0.9609 1)" font-size="9.99" fill="#111">TX</text>
<rect x="392" y="779" width="4" height="6" fill="#000"/>
<rect x="392" y="788" width="4" height="6" fill="#000"/>
<line x1="393.5" y1="773.5" x2="393.5" y2="763.5" stroke="#888" stroke-width="1" stroke-linecap="square"/>
<line x1="393.5" y1="774.5" x2="393.5" y2="779.5" stroke="#333" stroke-width="1" stroke-linecap="square"/>
<text transform="translate(399.9 763.3) scale(0.9609 1)" font-size="9.99" fill="#111">5V+</text>
<text transform="translate(336.1 829.6) scale(0.9609 1)" font-size="12.59" fill="#111" letter-spacing="0.208">UART 4</text>
<rect x="325.5" y="795.5" width="64" height="16" fill="none" stroke="#4a4a4a" stroke-width="1"/>
<line x1="331.5" y1="795.5" x2="331.5" y2="811.5" stroke="#4a4a4a" stroke-width="1" stroke-linecap="square"/>
<rect x="335.5" y="796.5" width="51" height="4" fill="none" stroke="#6a6a6a" stroke-width="1" rx="1"/>
<rect x="516.5" y="772.5" width="156" height="39" fill="none" stroke="#6a6a6a" stroke-width="1"/>
<path d="M521.5,799.5 V778.5 H667.5 V799.5 H663.5 V794.5 H525.5 V799.5 L521.5,799.5" fill="none" stroke="#4a4a4a" stroke-width="1" stroke-linecap="square"/>
<rect x="531" y="779" width="4" height="6" fill="#000"/>
<rect x="531" y="788" width="4" height="6" fill="#000"/>
<line x1="533.5" y1="773.5" x2="533.5" y2="589.5" stroke="#888" stroke-width="1" stroke-linecap="square"/>
<line x1="533.5" y1="774.5" x2="533.5" y2="779.5" stroke="#333" stroke-width="1" stroke-linecap="square"/>
<text transform="translate(539.1 589.3) scale(0.9609 1)" font-size="9.99" fill="#111">GND</text>
<rect x="543" y="779" width="4" height="6" fill="#000"/>
<rect x="543" y="788" width="4" height="6" fill="#000"/>
<line x1="545.5" y1="773.5" x2="545.5" y2="606.5" stroke="#888" stroke-width="1" stroke-linecap="square"/>
<line x1="545.5" y1="774.5" x2="545.5" y2="779.5" stroke="#333" stroke-width="1" stroke-linecap="square"/>
<text transform="translate(551.35 606.7) scale(0.9609 1)" font-size="9.99" fill="#111">SPI6_nRESET</text>
<rect x="556" y="779" width="4" height="6" fill="#000"/>
<rect x="556" y="788" width="4" height="6" fill="#000"/>
<line x1="557.5" y1="773.5" x2="557.5" y2="624.5" stroke="#888" stroke-width="1" stroke-linecap="square"/>
<line x1="557.5" y1="774.5" x2="557.5" y2="779.5" stroke="#333" stroke-width="1" stroke-linecap="square"/>
<text transform="translate(563.6 624.1) scale(0.9609 1)" font-size="9.99" fill="#111">SPI6_DRDY2</text>
<rect x="568" y="779" width="4" height="6" fill="#000"/>
<rect x="568" y="788" width="4" height="6" fill="#000"/>
<line x1="569.5" y1="773.5" x2="569.5" y2="641.5" stroke="#888" stroke-width="1" stroke-linecap="square"/>
<line x1="569.5" y1="774.5" x2="569.5" y2="779.5" stroke="#333" stroke-width="1" stroke-linecap="square"/>
<text transform="translate(575.85 641.5) scale(0.9609 1)" font-size="9.99" fill="#111">SPI6_DRDY1</text>
<g transform="translate(575.85 641.5) scale(0.9609 1)" fill="#fff"><rect x="55.78" y="-1.50" width="2.00" height="2.00"/><rect x="59.12" y="-1.50" width="1.83" height="2.00"/></g>
<rect x="580" y="779" width="4" height="6" fill="#000"/>
<rect x="580" y="788" width="4" height="6" fill="#000"/>
<line x1="582.5" y1="773.5" x2="582.5" y2="659.5" stroke="#888" stroke-width="1" stroke-linecap="square"/>
<line x1="582.5" y1="774.5" x2="582.5" y2="779.5" stroke="#333" stroke-width="1" stroke-linecap="square"/>
<text transform="translate(588.1 658.9) scale(0.9609 1)" font-size="9.99" fill="#111">SPI6_nSYNC</text>
<rect x="592" y="779" width="4" height="6" fill="#000"/>
<rect x="592" y="788" width="4" height="6" fill="#000"/>
<line x1="594.5" y1="773.5" x2="594.5" y2="676.5" stroke="#888" stroke-width="1" stroke-linecap="square"/>
<line x1="594.5" y1="774.5" x2="594.5" y2="779.5" stroke="#333" stroke-width="1" stroke-linecap="square"/>
<text transform="translate(600.35 676.3) scale(0.9609 1)" font-size="9.99" fill="#111">SPI6_CS2</text>
<rect x="605" y="779" width="3" height="6" fill="#000"/>
<rect x="605" y="788" width="3" height="6" fill="#000"/>
<line x1="606.5" y1="773.5" x2="606.5" y2="693.5" stroke="#888" stroke-width="1" stroke-linecap="square"/>
<line x1="606.5" y1="774.5" x2="606.5" y2="779.5" stroke="#333" stroke-width="1" stroke-linecap="square"/>
<text transform="translate(612.6 693.7) scale(0.9609 1)" font-size="9.99" fill="#111">SPI6_CS1</text>
<g transform="translate(612.6 693.7) scale(0.9609 1)" fill="#fff"><rect x="41.36" y="-1.70" width="2.00" height="2.00"/><rect x="44.70" y="-1.70" width="1.83" height="2.00"/></g>
<rect x="617" y="779" width="4" height="6" fill="#000"/>
<rect x="617" y="788" width="4" height="6" fill="#000"/>
<line x1="618.5" y1="773.5" x2="618.5" y2="711.5" stroke="#888" stroke-width="1" stroke-linecap="square"/>
<line x1="618.5" y1="774.5" x2="618.5" y2="779.5" stroke="#333" stroke-width="1" stroke-linecap="square"/>
<text transform="translate(624.85 711.1) scale(0.9609 1)" font-size="9.99" fill="#111">SPI6_MOSI</text>
<rect x="629" y="779" width="4" height="6" fill="#000"/>
<rect x="629" y="788" width="4" height="6" fill="#000"/>
<line x1="631.5" y1="773.5" x2="631.5" y2="728.5" stroke="#888" stroke-width="1" stroke-linecap="square"/>
<line x1="631.5" y1="774.5" x2="631.5" y2="779.5" stroke="#333" stroke-width="1" stroke-linecap="square"/>
<text transform="translate(637.1 728.5) scale(0.9609 1)" font-size="9.99" fill="#111">SPI6_MISO</text>
<rect x="641" y="779" width="4" height="6" fill="#000"/>
<rect x="641" y="788" width="4" height="6" fill="#000"/>
<line x1="643.5" y1="773.5" x2="643.5" y2="746.5" stroke="#888" stroke-width="1" stroke-linecap="square"/>
<line x1="643.5" y1="774.5" x2="643.5" y2="779.5" stroke="#333" stroke-width="1" stroke-linecap="square"/>
<text transform="translate(649.35 745.9) scale(0.9609 1)" font-size="9.99" fill="#111">SPI6_SCK</text>
<rect x="654" y="779" width="4" height="6" fill="#000"/>
<rect x="654" y="788" width="4" height="6" fill="#000"/>
<line x1="655.5" y1="773.5" x2="655.5" y2="763.5" stroke="#888" stroke-width="1" stroke-linecap="square"/>
<line x1="655.5" y1="774.5" x2="655.5" y2="779.5" stroke="#333" stroke-width="1" stroke-linecap="square"/>
<text transform="translate(661.6 763.3) scale(0.9609 1)" font-size="9.99" fill="#111">5V+</text>
<text transform="translate(581.2 829.6) scale(0.9609 1)" font-size="12.59" fill="#111" letter-spacing="0.208">SPI6</text>
<rect x="551.5" y="796.5" width="85" height="15" fill="none" stroke="#4a4a4a" stroke-width="1"/>
<line x1="557.5" y1="796.5" x2="557.5" y2="811.5" stroke="#4a4a4a" stroke-width="1" stroke-linecap="square"/>
<rect x="561.5" y="796.5" width="64" height="4" fill="none" stroke="#4a4a4a" stroke-width="1"/>
<line x1="600.5" y1="800.5" x2="600.5" y2="811.5" stroke="#4a4a4a" stroke-width="1" stroke-linecap="square"/>
<rect x="614.5" y="800.5" width="5" height="6" fill="none" stroke="#4a4a4a" stroke-width="1"/>
<rect x="614.5" y="806.5" width="5" height="5" fill="none" stroke="#4a4a4a" stroke-width="1"/>
<rect x="780.5" y="772.5" width="84" height="39" fill="none" stroke="#6a6a6a" stroke-width="1"/>
<path d="M785.5,799.5 V778.5 H859.5 V799.5 H855.5 V794.5 H789.5 V799.5 L785.5,799.5" fill="none" stroke="#4a4a4a" stroke-width="1" stroke-linecap="square"/>
<rect x="796" y="779" width="4" height="6" fill="#000"/>
<rect x="796" y="788" width="4" height="6" fill="#000"/>
<line x1="798.5" y1="773.5" x2="798.5" y2="693.5" stroke="#888" stroke-width="1" stroke-linecap="square"/>
<line x1="798.5" y1="774.5" x2="798.5" y2="779.5" stroke="#333" stroke-width="1" stroke-linecap="square"/>
<text transform="translate(804.1 693.7) scale(0.9609 1)" font-size="9.99" fill="#111">GND</text>
<rect x="808" y="779" width="4" height="6" fill="#000"/>
<rect x="808" y="788" width="4" height="6" fill="#000"/>
<line x1="810.5" y1="773.5" x2="810.5" y2="711.5" stroke="#888" stroke-width="1" stroke-linecap="square"/>
<line x1="810.5" y1="774.5" x2="810.5" y2="779.5" stroke="#333" stroke-width="1" stroke-linecap="square"/>
<text transform="translate(816.35 711.1) scale(0.9609 1)" font-size="9.99" fill="#111">SPEKTRUM_3V3</text>
<rect x="821" y="779" width="3" height="6" fill="#000"/>
<rect x="821" y="788" width="3" height="6" fill="#000"/>
<line x1="822.5" y1="773.5" x2="822.5" y2="728.5" stroke="#888" stroke-width="1" stroke-linecap="square"/>
<line x1="822.5" y1="774.5" x2="822.5" y2="779.5" stroke="#333" stroke-width="1" stroke-linecap="square"/>
<text transform="translate(828.6 728.5) scale(0.9609 1)" font-size="9.99" fill="#111">RSSI_IN</text>
<rect x="833" y="779" width="4" height="6" fill="#000"/>
<rect x="833" y="788" width="4" height="6" fill="#000"/>
<line x1="834.5" y1="773.5" x2="834.5" y2="746.5" stroke="#888" stroke-width="1" stroke-linecap="square"/>
<line x1="834.5" y1="774.5" x2="834.5" y2="779.5" stroke="#333" stroke-width="1" stroke-linecap="square"/>
<text transform="translate(840.85 745.9) scale(0.9609 1)" font-size="9.99" fill="#111">SBUS/DSM IN</text>
<rect x="845" y="779" width="4" height="6" fill="#000"/>
<rect x="845" y="788" width="4" height="6" fill="#000"/>
<line x1="847.5" y1="773.5" x2="847.5" y2="763.5" stroke="#888" stroke-width="1" stroke-linecap="square"/>
<line x1="847.5" y1="774.5" x2="847.5" y2="779.5" stroke="#333" stroke-width="1" stroke-linecap="square"/>
<text transform="translate(853.1 763.3) scale(0.9609 1)" font-size="9.99" fill="#111">5V+</text>
<text transform="translate(780.3 829.6) scale(0.9609 1)" font-size="12.59" fill="#111" letter-spacing="0.208">DSM/SBUS RC</text>
<rect x="800.5" y="795.5" width="44" height="16" fill="none" stroke="#4a4a4a" stroke-width="1"/>
<line x1="800.5" y1="802.5" x2="844.5" y2="802.5" stroke="#4a4a4a" stroke-width="1" stroke-linecap="square"/>
<line x1="806.5" y1="795.5" x2="806.5" y2="802.5" stroke="#4a4a4a" stroke-width="1" stroke-linecap="square"/>
<line x1="839.5" y1="795.5" x2="839.5" y2="802.5" stroke="#4a4a4a" stroke-width="1" stroke-linecap="square"/>
<rect x="810.5" y="795.5" width="25" height="5" fill="none" stroke="#4a4a4a" stroke-width="1"/>
<rect x="974.5" y="772.5" width="60" height="39" fill="none" stroke="#6a6a6a" stroke-width="1"/>
<path d="M979.5,797.5 V778.5 H1029.5 V797.5 H1025.5 V792.5 H983.5 V797.5 L979.5,797.5" fill="none" stroke="#4a4a4a" stroke-width="1" stroke-linecap="square"/>
<rect x="990" y="779" width="4" height="5" fill="#000"/>
<rect x="990" y="787" width="4" height="5" fill="#000"/>
<line x1="992.5" y1="773.5" x2="992.5" y2="728.5" stroke="#888" stroke-width="1" stroke-linecap="square"/>
<line x1="992.5" y1="774.5" x2="992.5" y2="779.5" stroke="#333" stroke-width="1" stroke-linecap="square"/>
<text transform="translate(998.1 728.5) scale(0.9609 1)" font-size="9.99" fill="#111">GND</text>
<rect x="1003" y="779" width="3" height="5" fill="#000"/>
<rect x="1003" y="787" width="3" height="5" fill="#000"/>
<line x1="1004.5" y1="773.5" x2="1004.5" y2="746.5" stroke="#888" stroke-width="1" stroke-linecap="square"/>
<line x1="1004.5" y1="774.5" x2="1004.5" y2="779.5" stroke="#333" stroke-width="1" stroke-linecap="square"/>
<text transform="translate(1010.5 745.9) scale(0.9609 1)" font-size="9.99" fill="#111">PPM IN</text>
<rect x="1015" y="779" width="4" height="5" fill="#000"/>
<rect x="1015" y="787" width="4" height="5" fill="#000"/>
<line x1="1016.5" y1="773.5" x2="1016.5" y2="763.5" stroke="#888" stroke-width="1" stroke-linecap="square"/>
<line x1="1016.5" y1="774.5" x2="1016.5" y2="779.5" stroke="#333" stroke-width="1" stroke-linecap="square"/>
<text transform="translate(1022.9 763.3) scale(0.9609 1)" font-size="9.99" fill="#111">5V+</text>
<text transform="translate(985.6 829.6) scale(0.9609 1)" font-size="12.59" fill="#111" letter-spacing="0.208">PPM IN</text>
<rect x="989.5" y="796.5" width="32" height="14" fill="none" stroke="#4a4a4a" stroke-width="1"/>
<rect x="998.5" y="796.5" width="14" height="4" fill="none" stroke="#4a4a4a" stroke-width="1"/>
<line x1="1014.5" y1="796.5" x2="1014.5" y2="810.5" stroke="#4a4a4a" stroke-width="1" stroke-linecap="square"/>
<rect x="1136.5" y="772.5" width="61" height="39" fill="none" stroke="#6a6a6a" stroke-width="1"/>
<path d="M1141.5,797.5 V778.5 H1192.5 V797.5 H1188.5 V792.5 H1145.5 V797.5 L1141.5,797.5" fill="none" stroke="#4a4a4a" stroke-width="1" stroke-linecap="square"/>
<rect x="1153" y="779" width="4" height="5" fill="#000"/>
<rect x="1153" y="787" width="4" height="5" fill="#000"/>
<line x1="1154.5" y1="773.5" x2="1154.5" y2="728.5" stroke="#888" stroke-width="1" stroke-linecap="square"/>
<line x1="1154.5" y1="774.5" x2="1154.5" y2="779.5" stroke="#333" stroke-width="1" stroke-linecap="square"/>
<text transform="translate(1160.8 728.5) scale(0.9609 1)" font-size="9.99" fill="#111">GND</text>
<rect x="1165" y="779" width="4" height="5" fill="#000"/>
<rect x="1165" y="787" width="4" height="5" fill="#000"/>
<line x1="1166.5" y1="773.5" x2="1166.5" y2="746.5" stroke="#888" stroke-width="1" stroke-linecap="square"/>
<line x1="1166.5" y1="774.5" x2="1166.5" y2="779.5" stroke="#333" stroke-width="1" stroke-linecap="square"/>
<text transform="translate(1172.85 745.9) scale(0.9609 1)" font-size="9.99" fill="#111">SUBS_OUT</text>
<rect x="1177" y="779" width="4" height="5" fill="#000"/>
<rect x="1177" y="787" width="4" height="5" fill="#000"/>
<line x1="1178.5" y1="773.5" x2="1178.5" y2="763.5" stroke="#888" stroke-width="1" stroke-linecap="square"/>
<line x1="1178.5" y1="774.5" x2="1178.5" y2="779.5" stroke="#333" stroke-width="1" stroke-linecap="square"/>
<text transform="translate(1184.9 763.3) scale(0.9609 1)" font-size="9.99" fill="#111">NC</text>
<text transform="translate(1136.9 829.6) scale(0.9609 1)" font-size="12.59" fill="#111" letter-spacing="0.208">SBUS OUT</text>
<rect x="1152.5" y="796.5" width="31" height="14" fill="none" stroke="#4a4a4a" stroke-width="1"/>
<rect x="1160.5" y="796.5" width="14" height="4" fill="none" stroke="#4a4a4a" stroke-width="1"/>
</svg>
</body></html>
